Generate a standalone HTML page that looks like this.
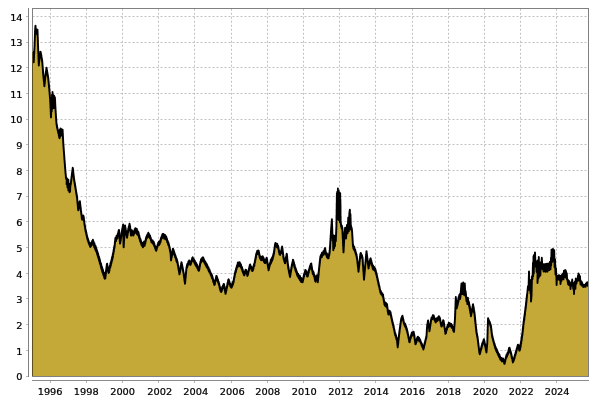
<!DOCTYPE html><html><head><meta charset="utf-8"><title>chart</title><style>html,body{margin:0;padding:0;background:#fff}svg{display:block}.lb{filter:grayscale(1)}text{font-family:"DejaVu Sans","Liberation Sans",sans-serif;font-size:9.8px;fill:#000;stroke:#000;stroke-width:0.25px}</style></head><body>
<svg width="600" height="400" viewBox="0 0 600 400">
<rect x="0" y="0" width="600" height="400" fill="#fff"/>
<g stroke="#c0c0c0" stroke-width="1" stroke-dasharray="2,2"><line x1="32.5" y1="16.5" x2="588.5" y2="16.5"/><line x1="32.5" y1="42.5" x2="588.5" y2="42.5"/><line x1="32.5" y1="67.5" x2="588.5" y2="67.5"/><line x1="32.5" y1="93.5" x2="588.5" y2="93.5"/><line x1="32.5" y1="119.5" x2="588.5" y2="119.5"/><line x1="32.5" y1="144.5" x2="588.5" y2="144.5"/><line x1="32.5" y1="170.5" x2="588.5" y2="170.5"/><line x1="32.5" y1="196.5" x2="588.5" y2="196.5"/><line x1="32.5" y1="221.5" x2="588.5" y2="221.5"/><line x1="32.5" y1="247.5" x2="588.5" y2="247.5"/><line x1="32.5" y1="273.5" x2="588.5" y2="273.5"/><line x1="32.5" y1="298.5" x2="588.5" y2="298.5"/><line x1="32.5" y1="324.5" x2="588.5" y2="324.5"/><line x1="32.5" y1="350.5" x2="588.5" y2="350.5"/><line x1="32.5" y1="376.5" x2="588.5" y2="376.5"/><line x1="50.5" y1="8.75" x2="50.5" y2="376"/><line x1="86.5" y1="8.75" x2="86.5" y2="376"/><line x1="122.5" y1="8.75" x2="122.5" y2="376"/><line x1="158.5" y1="8.75" x2="158.5" y2="376"/><line x1="194.5" y1="8.75" x2="194.5" y2="376"/><line x1="231.5" y1="8.75" x2="231.5" y2="376"/><line x1="267.5" y1="8.75" x2="267.5" y2="376"/><line x1="303.5" y1="8.75" x2="303.5" y2="376"/><line x1="339.5" y1="8.75" x2="339.5" y2="376"/><line x1="375.5" y1="8.75" x2="375.5" y2="376"/><line x1="412.5" y1="8.75" x2="412.5" y2="376"/><line x1="448.5" y1="8.75" x2="448.5" y2="376"/><line x1="484.5" y1="8.75" x2="484.5" y2="376"/><line x1="520.5" y1="8.75" x2="520.5" y2="376"/><line x1="556.5" y1="8.75" x2="556.5" y2="376"/></g>
<clipPath id="cp"><rect x="32.5" y="8.5" width="556" height="367.5"/></clipPath>
<g clip-path="url(#cp)"><path d="M32.5,52.0 L33.7,62.0 L34.6,45.0 L35.1,30.0 L35.5,26.0 L36.0,33.0 L36.5,29.5 L37.0,34.0 L37.5,30.0 L38.0,45.0 L38.8,65.0 L39.6,58.0 L40.5,52.0 L41.3,56.0 L42.3,62.0 L43.3,75.0 L44.4,86.0 L45.4,76.0 L46.5,68.0 L47.5,74.0 L48.2,78.0 L49.2,88.0 L50.2,100.0 L51.0,117.0 L51.4,99.0 L51.7,111.0 L52.0,95.0 L52.3,109.0 L52.5,92.0 L52.9,107.0 L53.3,95.0 L53.7,108.0 L54.1,96.0 L54.5,106.0 L54.9,97.5 L55.6,111.0 L56.5,124.0 L57.5,129.0 L58.5,133.0 L59.5,138.0 L59.9,130.0 L60.2,136.5 L60.5,129.0 L60.9,135.5 L61.3,129.3 L61.7,135.0 L62.1,129.6 L62.4,134.0 L62.6,130.0 L63.2,142.0 L64.5,160.0 L65.3,170.0 L66.0,178.0 L66.9,178.5 L66.6,184.0 L67.7,179.5 L67.4,187.0 L68.4,180.0 L68.3,190.0 L69.2,184.0 L69.5,192.0 L70.0,192.0 L70.3,186.0 L71.0,182.0 L72.8,168.0 L74.0,179.0 L75.5,188.0 L77.0,197.0 L78.2,210.0 L79.8,201.5 L81.0,211.0 L82.0,219.0 L83.5,216.0 L84.5,224.0 L85.5,230.0 L87.5,238.5 L89.0,243.0 L90.5,246.0 L92.5,241.5 L95.0,246.5 L97.0,252.0 L99.7,261.0 L102.0,269.0 L104.0,275.0 L105.3,277.0 L107.0,264.5 L108.5,272.0 L110.0,267.0 L113.0,255.0 L114.5,246.5 L115.5,238.5 L117.0,238.0 L119.0,230.5 L120.0,243.0 L121.5,234.5 L123.2,225.0 L123.6,247.0 L125.0,226.5 L127.0,237.0 L129.0,226.5 L130.0,226.5 L131.0,235.0 L132.0,231.5 L133.5,234.5 L135.0,230.0 L138.0,232.5 L140.0,239.5 L142.0,245.0 L145.0,244.0 L146.0,238.5 L148.0,234.4 L150.0,236.5 L151.5,241.5 L153.5,242.5 L155.5,248.5 L156.2,250.0 L158.0,244.5 L160.0,242.5 L161.5,237.5 L162.8,235.1 L164.5,237.0 L166.0,237.5 L167.5,241.5 L169.0,245.5 L170.5,252.0 L171.0,259.9 L173.0,249.4 L175.0,255.5 L177.5,262.5 L179.5,273.9 L181.5,262.7 L183.5,272.5 L185.0,283.4 L186.5,267.5 L189.0,261.4 L190.5,264.5 L192.5,258.2 L195.0,262.5 L197.0,266.0 L199.0,270.4 L200.5,262.0 L202.8,258.2 L205.0,262.5 L207.5,267.0 L210.0,272.0 L212.5,278.0 L214.5,284.4 L216.5,276.4 L218.5,282.5 L221.0,291.4 L224.0,284.6 L225.5,293.4 L228.5,279.9 L230.0,284.5 L231.5,286.9 L233.5,281.5 L235.0,273.5 L237.5,265.0 L240.0,264.0 L242.0,268.5 L244.0,274.4 L246.0,270.4 L247.5,275.4 L250.0,265.4 L252.5,270.4 L254.5,264.0 L256.5,253.5 L258.5,251.1 L260.0,257.5 L261.5,259.0 L263.0,258.0 L265.0,262.5 L266.8,258.6 L268.5,269.4 L270.5,262.2 L272.5,258.7 L274.0,252.7 L275.0,245.2 L276.2,244.7 L278.0,246.2 L279.5,253.7 L281.0,252.7 L282.2,247.2 L283.5,257.7 L285.0,262.7 L286.8,254.6 L288.0,265.7 L290.0,276.4 L291.5,267.7 L293.0,260.6 L295.0,267.7 L297.0,273.7 L299.5,277.7 L302.5,281.4 L304.5,273.7 L305.5,271.1 L307.5,275.9 L309.5,268.7 L311.2,264.4 L312.5,271.7 L314.0,274.7 L315.5,280.9 L317.0,275.4 L317.8,281.9 L318.5,274.7 L319.5,264.7 L320.5,256.7 L322.5,254.2 L324.0,252.7 L325.0,248.6 L326.0,254.2 L328.5,257.4 L329.5,253.2 L330.0,247.7 L330.9,232.7 L331.9,219.7 L332.6,240.0 L333.0,235.5 L333.3,250.0 L333.7,236.5 L334.1,248.0 L334.5,236.0 L334.9,246.0 L335.3,236.5 L335.8,241.0 L336.4,226.0 L336.9,193.5 L337.1,216.0 L337.3,192.0 L337.6,214.0 L337.9,189.0 L338.3,219.0 L338.7,191.0 L339.1,220.0 L339.5,193.0 L339.9,222.0 L340.2,193.5 L340.4,215.0 L340.4,200.0 L340.6,222.0 L341.2,226.0 L342.3,228.0 L343.5,252.0 L344.6,232.0 L345.2,228.5 L346.0,238.0 L347.0,225.5 L347.6,233.0 L348.3,217.5 L348.8,231.0 L349.3,214.0 L349.9,210.3 L350.1,229.0 L350.4,214.0 L350.8,226.0 L352.0,230.5 L353.0,246.2 L355.0,250.2 L357.0,257.7 L358.5,271.4 L360.5,253.6 L362.5,257.7 L364.0,279.4 L366.5,251.4 L368.5,267.9 L370.5,258.6 L372.5,266.7 L375.0,269.2 L376.5,274.3 L378.5,283.3 L380.5,292.3 L383.0,295.3 L384.5,304.3 L387.0,304.8 L388.0,312.3 L390.5,312.8 L392.0,320.3 L393.5,326.3 L395.0,333.3 L397.0,339.8 L397.7,346.9 L399.5,331.3 L401.0,320.3 L402.5,316.6 L404.0,323.3 L406.0,326.8 L407.5,332.3 L409.5,341.9 L411.5,334.3 L414.0,333.8 L415.5,343.9 L417.5,337.8 L420.0,340.3 L421.5,344.3 L423.5,348.4 L425.0,342.3 L426.5,336.3 L427.0,327.3 L428.0,320.9 L429.5,330.9 L431.0,320.3 L432.0,317.3 L433.5,316.5 L435.5,320.9 L437.5,319.3 L439.5,317.4 L441.5,325.9 L443.5,320.9 L445.5,333.4 L448.0,324.8 L450.5,324.3 L452.5,327.3 L454.0,331.4 L455.0,318.3 L455.8,297.9 L456.6,307.9 L457.5,304.3 L459.0,297.3 L460.5,295.8 L461.5,284.5 L462.2,293.0 L463.2,283.5 L463.9,294.0 L464.8,284.0 L465.2,295.0 L465.5,291.5 L466.5,300.5 L468.2,301.5 L469.5,306.3 L471.0,314.9 L473.0,305.6 L474.5,313.3 L475.5,323.3 L476.5,332.3 L477.5,337.3 L479.0,349.3 L479.7,353.9 L482.0,345.3 L484.0,339.9 L485.5,347.3 L486.5,351.9 L487.3,342.3 L488.0,318.9 L489.0,321.8 L490.0,323.3 L491.0,326.8 L492.0,335.3 L494.0,343.3 L496.0,349.3 L498.5,354.3 L501.0,359.3 L503.5,360.3 L504.5,363.4 L506.0,357.3 L508.0,353.3 L509.3,347.9 L511.0,353.3 L513.0,361.9 L514.5,357.3 L516.5,350.3 L518.0,344.9 L519.5,350.3 L521.0,343.2 L522.5,333.2 L523.5,323.7 L524.5,316.7 L526.0,304.7 L527.0,295.7 L528.0,286.2 L528.5,289.9 L529.0,271.5 L529.5,287.6 L530.0,284.2 L530.5,293.4 L531.0,280.0 L531.0,301.5 L531.5,295.9 L532.0,276.2 L532.5,279.1 L533.0,262.7 L533.2,276.2 L533.5,256.3 L533.8,273.4 L534.0,255.0 L534.5,264.7 L535.0,252.4 L535.6,266.6 L536.2,261.1 L536.6,271.6 L537.0,261.8 L537.2,273.1 L537.5,262.2 L537.5,283.0 L537.8,278.9 L538.0,260.3 L538.4,278.2 L538.8,257.0 L539.4,276.6 L540.0,263.2 L540.4,275.2 L540.8,262.1 L541.3,268.5 L541.8,257.7 L542.4,269.0 L543.0,264.3 L543.5,271.5 L544.0,264.3 L544.5,271.1 L545.0,264.1 L545.5,271.9 L546.0,264.0 L546.5,271.4 L547.0,263.6 L547.5,271.6 L548.0,263.7 L548.5,269.8 L549.0,263.5 L549.2,270.1 L549.5,263.7 L549.8,267.6 L550.0,261.6 L550.5,269.2 L551.0,257.6 L551.2,265.5 L551.5,249.6 L551.8,258.7 L552.0,249.4 L552.5,261.9 L553.0,249.0 L553.6,257.9 L554.2,250.2 L554.6,267.2 L555.0,259.1 L555.5,274.4 L556.0,268.2 L556.5,280.2 L556.6,285.0 L557.0,276.2 L557.5,279.6 L558.0,275.6 L558.5,278.7 L559.0,275.2 L559.5,280.1 L560.0,275.7 L560.5,282.1 L560.5,284.0 L561.0,276.1 L561.5,281.0 L562.0,274.8 L562.5,278.9 L563.0,273.5 L563.5,279.4 L564.0,270.8 L564.5,277.0 L565.0,270.2 L565.2,276.8 L565.5,270.1 L565.8,277.1 L566.0,271.3 L566.4,278.2 L566.8,273.2 L567.1,279.8 L567.5,279.3 L567.8,282.5 L568.0,279.9 L568.0,284.0 L568.5,284.7 L569.0,281.0 L569.2,285.1 L569.5,281.6 L569.8,285.2 L570.0,282.6 L570.5,288.2 L570.5,289.0 L571.0,284.1 L571.6,285.7 L572.2,279.5 L572.6,283.7 L573.0,282.9 L573.2,288.7 L573.5,285.2 L573.8,290.7 L574.0,284.1 L574.0,294.0 L574.2,289.8 L574.5,283.2 L574.8,288.6 L575.0,281.4 L575.4,288.7 L575.8,278.5 L576.4,283.7 L577.0,280.2 L577.5,280.8 L578.0,275.6 L578.2,278.0 L578.5,273.4 L578.8,280.5 L579.0,274.4 L579.5,280.5 L580.0,276.1 L580.5,284.4 L581.0,281.0 L581.5,285.5 L582.0,282.3 L582.5,285.3 L583.0,284.3 L583.2,287.0 L583.5,285.1 L583.8,286.7 L584.0,285.0 L584.5,286.7 L585.0,284.8 L585.5,286.9 L586.0,283.4 L586.5,285.0 L587.0,282.4 L587.5,285.9 L588.0,282.2 L588.5,376.5 L32.5,376.5 Z" fill="#c4a838"/>
<path d="M32.5,52.0 L32.5,51.7 L32.6,53.4 L32.6,52.4 L32.7,54.1 L32.7,53.2 L32.8,55.1 L32.8,54.3 L32.9,55.9 L32.9,55.1 L33.0,56.7 L33.0,55.9 L33.1,57.3 L33.1,56.5 L33.2,58.5 L33.2,57.4 L33.3,59.0 L33.3,58.0 L33.4,60.2 L33.4,58.8 L33.5,60.7 L33.5,59.4 L33.6,61.3 L33.6,60.3 L33.7,62.2 L33.7,61.8 L33.7,61.1 L33.7,61.8 L33.8,60.0 L33.8,60.9 L33.8,59.3 L33.8,60.3 L33.9,58.6 L33.9,59.4 L33.9,57.9 L33.9,58.4 L33.9,57.0 L34.0,57.9 L34.0,56.1 L34.0,56.9 L34.0,55.2 L34.0,56.2 L34.1,54.5 L34.1,55.5 L34.1,53.6 L34.1,54.5 L34.2,52.8 L34.2,53.8 L34.2,51.9 L34.2,53.1 L34.2,51.3 L34.3,52.4 L34.3,50.6 L34.3,51.3 L34.3,49.5 L34.3,50.4 L34.4,48.8 L34.4,49.5 L34.4,47.9 L34.4,49.0 L34.5,47.1 L34.5,48.3 L34.5,46.4 L34.5,47.4 L34.5,45.5 L34.6,46.5 L34.6,44.8 L34.6,45.2 L34.6,45.4 L34.6,43.6 L34.6,44.5 L34.7,42.9 L34.7,43.7 L34.7,41.9 L34.7,43.0 L34.7,41.0 L34.7,41.9 L34.7,40.4 L34.7,41.3 L34.8,39.7 L34.8,40.4 L34.8,38.8 L34.8,39.4 L34.8,38.1 L34.8,38.9 L34.8,37.2 L34.9,37.8 L34.9,36.3 L34.9,37.3 L34.9,35.6 L34.9,36.3 L34.9,34.6 L34.9,35.7 L35.0,33.7 L35.0,34.9 L35.0,33.1 L35.0,33.8 L35.0,32.3 L35.0,33.2 L35.0,31.2 L35.0,32.1 L35.1,30.7 L35.1,31.3 L35.1,29.9 L35.1,30.0 L35.1,30.4 L35.2,28.6 L35.2,29.3 L35.3,27.7 L35.3,28.7 L35.3,26.9 L35.4,28.1 L35.4,26.0 L35.5,27.1 L35.5,26.1 L35.5,25.6 L35.6,27.3 L35.6,26.4 L35.6,28.5 L35.6,27.2 L35.7,29.3 L35.7,28.2 L35.7,29.9 L35.8,29.2 L35.8,30.9 L35.8,30.0 L35.9,31.4 L35.9,30.8 L35.9,32.3 L35.9,31.6 L36.0,33.1 L36.0,32.7 L36.1,32.0 L36.1,32.7 L36.2,31.0 L36.2,31.8 L36.3,29.9 L36.4,31.2 L36.4,29.4 L36.5,29.3 L36.5,30.6 L36.6,29.7 L36.6,31.3 L36.7,30.2 L36.7,32.5 L36.8,31.2 L36.8,33.1 L36.9,32.2 L36.9,33.7 L37.0,32.9 L37.0,33.9 L37.0,34.5 L37.1,32.6 L37.1,33.3 L37.2,31.4 L37.2,32.8 L37.3,31.0 L37.4,32.0 L37.4,30.3 L37.5,31.2 L37.5,30.3 L37.5,29.6 L37.5,31.5 L37.5,30.7 L37.6,32.2 L37.6,31.5 L37.6,33.2 L37.6,32.2 L37.6,34.0 L37.6,33.1 L37.6,34.6 L37.6,33.7 L37.7,35.7 L37.7,34.5 L37.7,36.4 L37.7,35.3 L37.7,37.2 L37.7,36.4 L37.7,37.9 L37.8,37.1 L37.8,38.5 L37.8,38.1 L37.8,39.5 L37.8,38.8 L37.8,40.5 L37.8,39.3 L37.9,41.2 L37.9,40.1 L37.9,42.2 L37.9,40.9 L37.9,42.7 L37.9,42.0 L37.9,43.5 L37.9,42.9 L38.0,44.3 L38.0,43.5 L38.0,45.4 L38.0,45.2 L38.0,44.8 L38.0,46.5 L38.0,45.4 L38.1,47.1 L38.1,46.3 L38.1,48.2 L38.1,47.0 L38.1,49.0 L38.1,48.0 L38.2,49.5 L38.2,48.6 L38.2,50.4 L38.2,49.4 L38.2,51.5 L38.2,50.4 L38.3,52.0 L38.3,51.0 L38.3,52.9 L38.3,52.1 L38.3,53.5 L38.3,52.9 L38.4,54.6 L38.4,53.4 L38.4,55.1 L38.4,54.2 L38.4,56.3 L38.4,55.1 L38.4,56.8 L38.5,55.9 L38.5,57.5 L38.5,57.0 L38.5,58.7 L38.5,57.5 L38.5,59.3 L38.6,58.2 L38.6,60.0 L38.6,59.0 L38.6,61.0 L38.6,60.1 L38.6,61.5 L38.7,60.8 L38.7,62.3 L38.7,61.5 L38.7,63.1 L38.7,62.4 L38.7,63.9 L38.8,63.0 L38.8,64.8 L38.8,64.0 L38.8,65.0 L38.8,65.5 L38.9,63.5 L38.9,64.7 L39.0,62.6 L39.0,63.7 L39.1,61.8 L39.1,62.6 L39.2,61.0 L39.2,61.9 L39.3,60.4 L39.3,61.3 L39.4,59.5 L39.4,60.4 L39.5,58.4 L39.5,59.6 L39.6,57.8 L39.6,58.0 L39.7,58.4 L39.7,56.3 L39.8,57.4 L39.8,55.6 L39.9,56.6 L40.0,54.9 L40.0,56.1 L40.1,54.0 L40.1,55.2 L40.2,53.1 L40.3,54.6 L40.3,52.5 L40.4,53.6 L40.4,51.6 L40.5,52.0 L40.6,53.3 L40.7,52.0 L40.7,54.0 L40.8,52.8 L40.9,55.1 L41.0,53.5 L41.1,55.8 L41.1,54.1 L41.2,56.3 L41.3,56.0 L41.4,55.4 L41.4,57.8 L41.5,56.6 L41.6,58.2 L41.6,57.2 L41.7,59.0 L41.8,58.1 L41.8,59.8 L41.9,58.7 L42.0,60.9 L42.0,59.4 L42.1,61.4 L42.2,60.3 L42.2,62.5 L42.3,61.8 L42.3,61.5 L42.4,63.7 L42.4,62.7 L42.4,64.5 L42.5,63.4 L42.5,65.1 L42.5,63.9 L42.5,66.1 L42.6,65.1 L42.6,66.7 L42.6,65.8 L42.7,67.5 L42.7,66.7 L42.7,68.3 L42.8,67.3 L42.8,69.0 L42.8,68.2 L42.9,70.0 L42.9,69.3 L42.9,70.7 L43.0,69.8 L43.0,71.6 L43.0,70.9 L43.0,72.7 L43.1,71.3 L43.1,73.5 L43.1,72.5 L43.2,74.0 L43.2,73.3 L43.2,75.0 L43.3,74.0 L43.3,74.8 L43.3,76.1 L43.4,74.9 L43.4,77.1 L43.5,76.0 L43.5,77.6 L43.5,76.5 L43.6,78.6 L43.6,77.4 L43.7,79.2 L43.7,78.6 L43.7,80.3 L43.8,79.2 L43.8,80.8 L43.9,79.8 L43.9,81.9 L44.0,80.7 L44.0,82.4 L44.0,81.4 L44.1,83.2 L44.1,82.3 L44.2,84.2 L44.2,83.3 L44.2,85.1 L44.3,83.9 L44.3,85.8 L44.4,85.1 L44.4,86.0 L44.4,86.2 L44.5,84.7 L44.5,85.4 L44.6,83.9 L44.6,84.6 L44.6,83.0 L44.7,83.8 L44.7,82.0 L44.8,83.0 L44.8,81.3 L44.8,82.2 L44.9,80.6 L44.9,81.3 L45.0,79.8 L45.0,80.5 L45.0,78.8 L45.1,79.9 L45.1,78.2 L45.2,79.1 L45.2,77.1 L45.2,78.1 L45.3,76.3 L45.3,77.5 L45.4,75.7 L45.4,76.2 L45.5,76.3 L45.5,74.4 L45.6,75.7 L45.6,73.4 L45.7,74.7 L45.7,72.7 L45.8,74.1 L45.8,72.0 L45.9,73.1 L46.0,71.3 L46.0,72.1 L46.1,70.6 L46.1,71.3 L46.2,69.5 L46.2,70.6 L46.3,69.0 L46.3,69.7 L46.4,67.9 L46.4,69.3 L46.5,68.1 L46.6,67.7 L46.6,69.5 L46.7,68.5 L46.8,70.4 L46.8,69.4 L46.9,71.2 L47.0,70.1 L47.0,72.2 L47.1,70.6 L47.2,72.8 L47.2,71.7 L47.3,73.8 L47.4,72.5 L47.4,74.3 L47.5,73.7 L47.6,73.7 L47.6,75.6 L47.7,74.4 L47.8,76.2 L47.9,75.2 L47.9,76.9 L48.0,76.1 L48.1,77.8 L48.1,76.9 L48.2,77.7 L48.2,78.9 L48.3,78.2 L48.3,79.8 L48.4,78.8 L48.4,80.7 L48.4,79.6 L48.5,81.6 L48.5,80.4 L48.6,82.5 L48.6,81.3 L48.6,83.0 L48.7,81.9 L48.7,83.7 L48.8,82.8 L48.8,84.8 L48.8,83.9 L48.9,85.7 L48.9,84.3 L49.0,86.4 L49.0,85.2 L49.0,87.3 L49.1,86.3 L49.1,87.9 L49.2,86.9 L49.2,88.2 L49.2,89.2 L49.3,88.0 L49.3,89.9 L49.3,88.7 L49.4,90.8 L49.4,89.6 L49.4,91.4 L49.5,90.7 L49.5,92.1 L49.5,91.4 L49.6,92.9 L49.6,91.9 L49.6,93.9 L49.7,92.8 L49.7,94.8 L49.7,93.6 L49.8,95.5 L49.8,94.7 L49.8,96.4 L49.9,95.2 L49.9,97.1 L49.9,96.1 L50.0,98.0 L50.0,97.1 L50.0,98.8 L50.1,97.8 L50.1,99.3 L50.1,98.6 L50.2,100.4 L50.2,99.8 L50.2,99.6 L50.2,101.7 L50.3,100.6 L50.3,102.2 L50.3,101.4 L50.3,103.2 L50.3,102.1 L50.4,103.9 L50.4,102.9 L50.4,104.5 L50.4,104.0 L50.4,105.4 L50.4,104.5 L50.5,106.2 L50.5,105.4 L50.5,106.9 L50.5,106.4 L50.5,107.8 L50.6,107.0 L50.6,108.8 L50.6,107.8 L50.6,109.5 L50.6,108.6 L50.7,110.4 L50.7,109.5 L50.7,111.0 L50.7,110.1 L50.7,111.9 L50.8,110.9 L50.8,113.0 L50.8,112.1 L50.8,113.6 L50.8,112.6 L50.8,114.6 L50.9,113.5 L50.9,115.1 L50.9,114.4 L50.9,116.2 L50.9,115.3 L51.0,116.9 L51.0,116.1 L51.0,117.0 L51.0,117.4 L51.0,115.7 L51.0,116.6 L51.0,114.8 L51.0,115.8 L51.1,113.9 L51.1,114.7 L51.1,113.0 L51.1,114.0 L51.1,112.6 L51.1,113.0 L51.1,111.6 L51.1,112.4 L51.1,110.9 L51.1,111.5 L51.1,110.0 L51.2,110.8 L51.2,109.0 L51.2,109.8 L51.2,108.3 L51.2,109.4 L51.2,107.7 L51.2,108.6 L51.2,106.7 L51.2,107.8 L51.2,106.1 L51.2,106.8 L51.2,105.2 L51.3,106.2 L51.3,104.3 L51.3,105.2 L51.3,103.6 L51.3,104.3 L51.3,103.0 L51.3,103.5 L51.3,101.8 L51.3,102.7 L51.3,101.0 L51.3,101.9 L51.4,100.5 L51.4,101.2 L51.4,99.7 L51.4,100.4 L51.4,98.6 L51.4,99.2 L51.4,100.2 L51.4,99.1 L51.4,101.0 L51.4,99.8 L51.5,101.7 L51.5,100.7 L51.5,102.2 L51.5,101.5 L51.5,103.2 L51.5,102.3 L51.5,104.1 L51.5,103.3 L51.5,104.6 L51.5,103.8 L51.5,105.5 L51.6,104.8 L51.6,106.4 L51.6,105.7 L51.6,107.3 L51.6,106.2 L51.6,107.9 L51.6,107.1 L51.6,108.7 L51.6,107.9 L51.7,109.6 L51.7,108.9 L51.7,110.3 L51.7,109.7 L51.7,111.4 L51.7,111.0 L51.7,110.1 L51.7,111.0 L51.7,109.0 L51.7,110.0 L51.7,108.5 L51.7,109.1 L51.8,107.7 L51.8,108.4 L51.8,106.9 L51.8,107.5 L51.8,106.1 L51.8,106.9 L51.8,105.0 L51.8,106.1 L51.8,104.4 L51.8,105.2 L51.8,103.6 L51.8,104.4 L51.8,102.8 L51.9,103.4 L51.9,102.1 L51.9,103.0 L51.9,101.3 L51.9,102.0 L51.9,100.3 L51.9,101.4 L51.9,99.7 L51.9,100.3 L51.9,98.9 L51.9,99.6 L51.9,98.0 L51.9,99.0 L51.9,97.0 L52.0,98.2 L52.0,96.6 L52.0,97.0 L52.0,95.5 L52.0,96.6 L52.0,94.8 L52.0,95.0 L52.0,95.8 L52.0,95.2 L52.0,97.0 L52.0,95.8 L52.0,97.8 L52.1,96.6 L52.1,98.3 L52.1,97.7 L52.1,99.1 L52.1,98.4 L52.1,100.1 L52.1,99.0 L52.1,100.9 L52.1,99.9 L52.1,101.7 L52.1,100.8 L52.1,102.4 L52.2,101.8 L52.2,103.3 L52.2,102.5 L52.2,104.2 L52.2,103.1 L52.2,104.7 L52.2,104.1 L52.2,105.5 L52.2,104.7 L52.2,106.5 L52.2,105.7 L52.2,107.0 L52.3,106.4 L52.3,108.1 L52.3,107.2 L52.3,108.7 L52.3,107.9 L52.3,108.8 L52.3,109.1 L52.3,107.6 L52.3,108.6 L52.3,106.7 L52.3,107.8 L52.3,106.0 L52.3,106.7 L52.3,105.2 L52.3,106.2 L52.3,104.3 L52.4,105.1 L52.4,103.7 L52.4,104.4 L52.4,102.6 L52.4,103.5 L52.4,102.0 L52.4,102.8 L52.4,100.9 L52.4,101.8 L52.4,100.5 L52.4,101.1 L52.4,99.5 L52.4,100.4 L52.4,98.8 L52.4,99.6 L52.4,97.8 L52.4,98.7 L52.4,97.2 L52.4,98.1 L52.4,96.3 L52.4,97.2 L52.5,95.5 L52.5,96.1 L52.5,94.5 L52.5,95.4 L52.5,93.6 L52.5,94.6 L52.5,93.1 L52.5,93.7 L52.5,92.2 L52.5,93.1 L52.5,92.2 L52.5,91.9 L52.5,93.4 L52.5,92.7 L52.5,94.5 L52.6,93.5 L52.6,94.9 L52.6,94.4 L52.6,95.8 L52.6,94.8 L52.6,96.8 L52.6,95.7 L52.6,97.7 L52.6,96.5 L52.7,98.2 L52.7,97.6 L52.7,99.3 L52.7,98.2 L52.7,99.7 L52.7,99.0 L52.7,100.7 L52.7,99.9 L52.7,101.5 L52.7,100.8 L52.8,102.2 L52.8,101.6 L52.8,103.1 L52.8,102.1 L52.8,103.8 L52.8,102.9 L52.8,104.7 L52.8,104.0 L52.8,105.7 L52.9,104.6 L52.9,106.4 L52.9,105.7 L52.9,107.2 L52.9,106.9 L52.9,105.8 L52.9,106.7 L52.9,105.2 L53.0,106.2 L53.0,104.6 L53.0,105.2 L53.0,103.4 L53.0,104.6 L53.0,103.0 L53.0,103.4 L53.0,102.1 L53.1,103.0 L53.1,101.3 L53.1,102.1 L53.1,100.2 L53.1,101.2 L53.1,99.7 L53.1,100.6 L53.2,98.7 L53.2,99.5 L53.2,97.9 L53.2,98.8 L53.2,97.3 L53.2,97.8 L53.2,96.2 L53.2,97.4 L53.3,95.5 L53.3,96.6 L53.3,95.0 L53.3,94.9 L53.3,96.0 L53.3,95.0 L53.3,97.1 L53.3,96.0 L53.4,97.6 L53.4,96.8 L53.4,98.5 L53.4,97.4 L53.4,99.2 L53.4,98.3 L53.4,100.2 L53.5,99.1 L53.5,101.0 L53.5,100.0 L53.5,101.7 L53.5,100.9 L53.5,102.5 L53.5,101.6 L53.5,103.2 L53.5,102.6 L53.6,104.3 L53.6,103.4 L53.6,104.8 L53.6,104.3 L53.6,105.8 L53.6,105.0 L53.6,106.8 L53.7,105.6 L53.7,107.6 L53.7,106.6 L53.7,108.1 L53.7,107.8 L53.7,107.0 L53.7,107.9 L53.7,106.2 L53.8,106.9 L53.8,105.4 L53.8,106.3 L53.8,104.5 L53.8,105.5 L53.8,103.6 L53.8,104.7 L53.8,103.1 L53.9,104.0 L53.9,102.2 L53.9,103.1 L53.9,101.4 L53.9,102.3 L53.9,100.7 L53.9,101.3 L54.0,99.9 L54.0,100.5 L54.0,98.8 L54.0,99.9 L54.0,98.2 L54.0,99.0 L54.0,97.1 L54.0,98.2 L54.1,96.7 L54.1,97.6 L54.1,95.7 L54.1,96.3 L54.1,96.9 L54.1,96.2 L54.1,98.0 L54.2,96.8 L54.2,98.8 L54.2,98.0 L54.2,99.4 L54.2,98.7 L54.2,100.1 L54.3,99.1 L54.3,101.1 L54.3,100.0 L54.3,101.8 L54.3,100.8 L54.3,102.6 L54.4,101.9 L54.4,103.6 L54.4,102.4 L54.4,104.1 L54.4,103.3 L54.4,105.1 L54.5,104.3 L54.5,105.8 L54.5,105.1 L54.5,105.8 L54.5,106.1 L54.5,104.5 L54.6,105.5 L54.6,103.9 L54.6,104.4 L54.6,103.0 L54.6,103.9 L54.7,102.2 L54.7,102.9 L54.7,101.4 L54.7,102.3 L54.7,100.5 L54.7,101.2 L54.8,99.9 L54.8,100.5 L54.8,98.8 L54.8,99.8 L54.8,98.2 L54.9,98.8 L54.9,97.2 L54.9,97.5 L54.9,98.5 L54.9,97.7 L55.0,99.6 L55.0,98.6 L55.0,100.2 L55.0,99.4 L55.0,101.0 L55.1,100.0 L55.1,102.1 L55.1,101.0 L55.1,102.5 L55.2,101.6 L55.2,103.3 L55.2,102.8 L55.2,104.5 L55.2,103.4 L55.3,105.3 L55.3,104.2 L55.3,106.1 L55.3,105.0 L55.3,106.6 L55.4,106.1 L55.4,107.6 L55.4,106.6 L55.4,108.6 L55.5,107.7 L55.5,109.3 L55.5,108.3 L55.5,110.0 L55.5,109.3 L55.6,110.7 L55.6,109.9 L55.6,111.2 L55.6,111.9 L55.7,111.1 L55.7,113.0 L55.7,111.7 L55.7,113.6 L55.8,112.9 L55.8,114.7 L55.8,113.4 L55.9,115.3 L55.9,114.6 L55.9,116.3 L55.9,115.2 L56.0,117.1 L56.0,116.0 L56.0,117.9 L56.0,117.0 L56.1,118.7 L56.1,117.8 L56.1,119.4 L56.2,118.3 L56.2,120.4 L56.2,119.4 L56.2,120.9 L56.3,120.1 L56.3,121.8 L56.3,120.9 L56.4,122.5 L56.4,121.8 L56.4,123.6 L56.4,122.3 L56.5,124.1 L56.5,124.0 L56.6,123.5 L56.7,125.4 L56.8,124.2 L56.8,126.3 L56.9,125.2 L57.0,127.4 L57.1,126.0 L57.2,128.1 L57.2,127.0 L57.3,129.0 L57.4,127.8 L57.5,129.1 L57.6,130.2 L57.7,129.0 L57.8,130.8 L57.9,129.7 L58.0,131.9 L58.1,130.7 L58.2,132.8 L58.3,131.2 L58.4,133.5 L58.5,132.8 L58.6,132.6 L58.7,134.4 L58.8,133.6 L58.8,135.5 L58.9,134.5 L59.0,136.3 L59.1,135.1 L59.2,136.9 L59.2,135.9 L59.3,137.8 L59.4,136.6 L59.5,138.2 L59.5,138.3 L59.5,136.7 L59.6,137.5 L59.6,135.8 L59.6,136.9 L59.6,135.1 L59.6,136.0 L59.7,133.9 L59.7,135.2 L59.7,133.2 L59.7,134.1 L59.7,132.3 L59.8,133.5 L59.8,131.5 L59.8,132.8 L59.8,131.1 L59.8,132.0 L59.9,130.0 L59.9,130.9 L59.9,129.9 L59.9,129.6 L59.9,131.3 L60.0,130.4 L60.0,132.2 L60.0,131.2 L60.0,132.9 L60.0,132.2 L60.0,134.1 L60.1,133.1 L60.1,134.6 L60.1,133.8 L60.1,135.5 L60.1,134.8 L60.2,136.2 L60.2,135.6 L60.2,136.7 L60.2,136.8 L60.2,134.8 L60.2,135.8 L60.3,134.1 L60.3,134.9 L60.3,133.3 L60.3,134.3 L60.3,132.6 L60.4,133.6 L60.4,131.7 L60.4,132.6 L60.4,130.7 L60.4,131.6 L60.4,129.8 L60.5,131.0 L60.5,129.2 L60.5,130.2 L60.5,128.9 L60.5,128.5 L60.5,130.5 L60.6,129.6 L60.6,131.4 L60.6,130.4 L60.6,132.0 L60.7,131.1 L60.7,132.7 L60.7,131.8 L60.8,133.6 L60.8,132.7 L60.8,134.8 L60.8,133.6 L60.9,135.4 L60.9,134.5 L60.9,135.2 L60.9,135.6 L61.0,134.2 L61.0,135.0 L61.0,133.2 L61.0,134.1 L61.1,132.2 L61.1,133.1 L61.1,131.6 L61.1,132.5 L61.2,130.9 L61.2,131.4 L61.2,129.9 L61.2,130.6 L61.3,129.1 L61.3,129.2 L61.3,130.4 L61.4,129.4 L61.4,131.1 L61.4,130.2 L61.4,132.0 L61.5,131.2 L61.5,133.0 L61.5,132.0 L61.6,133.5 L61.6,132.9 L61.6,134.5 L61.6,133.3 L61.7,135.4 L61.7,134.9 L61.7,134.0 L61.8,134.6 L61.8,133.0 L61.8,134.1 L61.9,132.3 L61.9,133.3 L61.9,131.4 L61.9,132.6 L62.0,130.5 L62.0,131.4 L62.0,129.6 L62.1,130.5 L62.1,129.6 L62.1,129.4 L62.2,131.0 L62.2,130.3 L62.2,132.0 L62.2,131.1 L62.3,132.7 L62.3,131.5 L62.3,133.3 L62.3,132.7 L62.4,134.3 L62.4,134.0 L62.4,132.9 L62.4,134.0 L62.5,132.3 L62.5,133.0 L62.5,131.4 L62.5,132.1 L62.5,130.4 L62.6,131.6 L62.6,129.6 L62.6,129.7 L62.6,131.2 L62.6,130.0 L62.7,131.8 L62.7,130.8 L62.7,132.6 L62.7,131.9 L62.7,133.3 L62.8,132.7 L62.8,134.1 L62.8,133.4 L62.8,135.2 L62.8,134.1 L62.9,136.0 L62.9,134.8 L62.9,136.6 L62.9,135.7 L62.9,137.4 L63.0,136.4 L63.0,138.3 L63.0,137.4 L63.0,139.1 L63.0,137.9 L63.1,139.7 L63.1,138.8 L63.1,140.4 L63.1,139.8 L63.1,141.3 L63.2,140.4 L63.2,142.5 L63.2,142.1 L63.2,141.8 L63.3,143.7 L63.3,142.6 L63.3,144.2 L63.3,143.1 L63.4,145.1 L63.4,144.0 L63.4,146.0 L63.5,144.7 L63.5,146.7 L63.5,145.6 L63.5,147.6 L63.6,146.4 L63.6,148.3 L63.6,147.2 L63.7,149.1 L63.7,148.2 L63.7,149.8 L63.7,148.9 L63.8,150.5 L63.8,149.5 L63.8,151.3 L63.9,150.7 L63.9,152.1 L63.9,151.1 L64.0,153.0 L64.0,152.3 L64.0,153.7 L64.0,153.1 L64.1,154.8 L64.1,153.7 L64.1,155.6 L64.2,154.4 L64.2,156.1 L64.2,155.3 L64.2,157.0 L64.3,156.0 L64.3,158.0 L64.3,156.7 L64.4,158.5 L64.4,157.5 L64.4,159.7 L64.4,158.3 L64.5,160.1 L64.5,159.8 L64.5,159.9 L64.6,161.3 L64.6,160.3 L64.6,162.4 L64.7,161.2 L64.7,163.2 L64.7,162.0 L64.8,163.8 L64.8,163.1 L64.8,164.5 L64.9,163.6 L64.9,165.4 L64.9,164.6 L64.9,166.3 L65.0,165.5 L65.0,167.0 L65.0,166.2 L65.1,168.0 L65.1,167.0 L65.1,168.6 L65.2,167.5 L65.2,169.5 L65.2,168.3 L65.3,170.3 L65.3,169.7 L65.3,169.7 L65.4,171.5 L65.4,170.4 L65.4,172.2 L65.5,171.2 L65.5,173.1 L65.5,172.2 L65.6,174.1 L65.6,173.1 L65.7,174.9 L65.7,173.9 L65.7,175.3 L65.8,174.6 L65.8,176.4 L65.8,175.1 L65.9,176.9 L65.9,176.1 L65.9,177.9 L66.0,176.8 L66.0,177.8 L66.5,179.8 L66.9,178.3 L66.9,178.1 L66.9,179.9 L66.8,178.9 L66.8,180.8 L66.8,180.1 L66.8,181.8 L66.7,180.8 L66.7,182.4 L66.7,181.6 L66.7,183.2 L66.6,182.4 L66.6,184.3 L66.6,184.2 L66.7,182.6 L66.8,184.0 L66.9,182.0 L67.0,183.2 L67.1,180.9 L67.2,182.2 L67.3,180.0 L67.4,181.3 L67.5,179.6 L67.6,180.6 L67.7,179.8 L67.7,179.3 L67.7,180.9 L67.7,179.9 L67.6,181.7 L67.6,181.0 L67.6,182.7 L67.6,181.7 L67.6,183.6 L67.6,182.5 L67.5,184.2 L67.5,183.5 L67.5,185.0 L67.5,184.1 L67.5,186.1 L67.5,185.0 L67.4,186.7 L67.4,186.0 L67.4,187.1 L67.5,187.4 L67.5,185.6 L67.6,186.5 L67.6,184.4 L67.7,185.6 L67.8,183.9 L67.8,184.8 L67.9,182.8 L67.9,184.2 L68.0,182.3 L68.0,183.1 L68.1,181.4 L68.2,182.3 L68.2,180.5 L68.3,181.4 L68.3,179.7 L68.4,179.8 L68.4,181.2 L68.4,180.1 L68.4,181.7 L68.4,180.8 L68.4,182.5 L68.4,181.8 L68.4,183.6 L68.4,182.5 L68.4,184.3 L68.4,183.4 L68.4,184.9 L68.4,184.1 L68.3,185.7 L68.3,185.1 L68.3,186.6 L68.3,186.0 L68.3,187.4 L68.3,186.5 L68.3,188.3 L68.3,187.4 L68.3,189.1 L68.3,188.2 L68.3,189.7 L68.3,188.9 L68.3,190.0 L68.4,190.5 L68.4,188.2 L68.5,189.5 L68.5,187.6 L68.6,188.9 L68.7,186.9 L68.7,187.8 L68.8,185.9 L68.8,187.4 L68.9,185.1 L69.0,186.5 L69.0,184.2 L69.1,185.7 L69.1,183.6 L69.2,184.0 L69.2,185.0 L69.2,184.1 L69.2,185.7 L69.3,185.0 L69.3,186.8 L69.3,185.7 L69.3,187.5 L69.3,186.7 L69.3,188.2 L69.3,187.4 L69.4,189.1 L69.4,188.2 L69.4,189.9 L69.4,188.8 L69.4,190.5 L69.4,189.7 L69.5,191.6 L69.5,190.6 L69.5,192.2 L69.5,192.2 L70.0,191.4 L70.0,190.9 L70.0,191.7 L70.1,190.0 L70.1,191.3 L70.1,189.3 L70.1,190.1 L70.1,188.5 L70.2,189.5 L70.2,187.6 L70.2,188.7 L70.2,186.9 L70.2,188.0 L70.3,186.1 L70.3,187.0 L70.3,186.2 L70.4,185.0 L70.4,186.1 L70.5,184.1 L70.6,185.3 L70.7,183.4 L70.7,184.7 L70.8,182.5 L70.9,183.4 L70.9,181.7 L71.0,181.9 L71.1,182.1 L71.1,180.5 L71.2,181.5 L71.2,179.6 L71.3,180.7 L71.3,179.0 L71.4,179.8 L71.4,177.9 L71.5,179.4 L71.5,177.2 L71.6,178.2 L71.6,176.3 L71.7,177.5 L71.7,175.8 L71.8,176.6 L71.8,174.7 L71.9,176.1 L71.9,174.0 L72.0,175.1 L72.0,173.2 L72.1,174.2 L72.1,172.2 L72.2,173.5 L72.2,171.6 L72.3,172.9 L72.3,170.7 L72.4,171.9 L72.4,170.2 L72.5,171.2 L72.5,169.4 L72.6,170.5 L72.6,168.5 L72.7,169.7 L72.7,167.8 L72.8,167.9 L72.8,169.0 L72.9,168.1 L72.9,169.8 L73.0,169.1 L73.0,170.9 L73.1,169.8 L73.1,171.5 L73.2,170.6 L73.2,172.4 L73.2,171.4 L73.3,173.3 L73.3,172.1 L73.4,174.0 L73.4,172.8 L73.5,175.0 L73.5,174.0 L73.6,175.8 L73.6,174.4 L73.6,176.6 L73.7,175.6 L73.7,177.4 L73.8,176.2 L73.8,177.9 L73.9,177.3 L73.9,179.1 L74.0,177.8 L74.0,178.9 L74.1,180.0 L74.1,179.2 L74.2,180.9 L74.3,179.7 L74.3,181.8 L74.4,180.8 L74.5,182.9 L74.5,181.3 L74.6,183.3 L74.7,182.1 L74.8,184.3 L74.8,183.0 L74.9,185.2 L75.0,183.7 L75.0,186.1 L75.1,184.6 L75.2,186.6 L75.2,185.5 L75.3,187.6 L75.4,186.3 L75.4,188.3 L75.5,188.2 L75.6,187.6 L75.6,189.5 L75.7,188.6 L75.8,190.2 L75.8,189.3 L75.9,191.0 L76.0,190.1 L76.0,191.9 L76.1,190.9 L76.2,192.9 L76.2,191.7 L76.3,193.9 L76.4,192.8 L76.5,194.7 L76.5,193.4 L76.6,195.4 L76.7,194.1 L76.7,196.3 L76.8,195.1 L76.9,196.9 L76.9,195.6 L77.0,196.7 L77.0,198.2 L77.1,197.0 L77.1,198.7 L77.2,197.9 L77.2,199.8 L77.2,198.5 L77.3,200.5 L77.3,199.3 L77.3,201.4 L77.4,200.4 L77.4,202.4 L77.5,201.4 L77.5,203.1 L77.5,201.9 L77.6,203.7 L77.6,202.6 L77.6,204.5 L77.7,203.6 L77.7,205.4 L77.8,204.3 L77.8,206.1 L77.8,205.3 L77.9,207.0 L77.9,206.0 L77.9,208.0 L78.0,207.0 L78.0,208.8 L78.0,207.7 L78.1,209.5 L78.1,208.6 L78.2,210.3 L78.2,210.3 L78.3,208.7 L78.4,210.2 L78.4,208.1 L78.5,209.1 L78.6,207.3 L78.7,208.4 L78.7,206.3 L78.8,207.7 L78.9,205.8 L79.0,206.9 L79.0,204.5 L79.1,206.0 L79.2,204.2 L79.3,205.0 L79.3,203.4 L79.4,204.2 L79.5,202.1 L79.6,203.6 L79.6,201.4 L79.7,202.9 L79.8,201.8 L79.9,201.1 L79.9,203.1 L80.0,201.9 L80.0,204.0 L80.1,202.8 L80.1,204.8 L80.2,203.8 L80.2,205.6 L80.3,204.5 L80.3,206.5 L80.4,205.5 L80.4,207.0 L80.5,206.4 L80.5,208.2 L80.6,206.7 L80.6,208.9 L80.7,207.8 L80.7,209.8 L80.8,208.5 L80.8,210.5 L80.9,209.5 L80.9,211.2 L81.0,211.0 L81.0,210.7 L81.1,212.5 L81.2,211.4 L81.2,213.6 L81.2,212.5 L81.3,214.2 L81.3,213.3 L81.4,214.8 L81.5,213.7 L81.5,215.8 L81.5,214.4 L81.6,216.5 L81.7,215.7 L81.7,217.3 L81.8,216.2 L81.8,218.4 L81.8,216.8 L81.9,218.9 L82.0,217.9 L82.0,218.8 L82.2,219.8 L82.4,217.4 L82.6,218.7 L82.8,216.8 L82.9,217.9 L83.1,215.5 L83.3,217.2 L83.5,216.4 L83.5,215.9 L83.6,217.7 L83.7,216.6 L83.7,218.1 L83.8,217.1 L83.8,219.0 L83.8,217.9 L83.9,219.8 L84.0,219.1 L84.0,220.9 L84.0,219.6 L84.1,221.7 L84.2,220.3 L84.2,222.1 L84.2,221.2 L84.3,223.2 L84.3,222.1 L84.4,224.2 L84.5,223.0 L84.5,224.3 L84.6,225.3 L84.6,224.3 L84.7,225.7 L84.8,224.7 L84.8,227.0 L84.9,225.8 L85.0,227.5 L85.0,226.3 L85.1,228.2 L85.2,227.0 L85.2,229.2 L85.3,228.2 L85.4,229.9 L85.4,228.8 L85.5,230.0 L85.6,231.4 L85.7,230.2 L85.8,232.2 L85.9,230.8 L86.0,233.0 L86.1,231.5 L86.2,233.6 L86.3,232.4 L86.4,234.7 L86.5,232.9 L86.5,235.5 L86.6,234.0 L86.7,236.0 L86.8,235.1 L86.9,237.2 L87.0,235.5 L87.1,237.9 L87.2,236.5 L87.3,238.6 L87.4,237.0 L87.5,238.7 L87.6,239.9 L87.8,238.5 L87.9,240.6 L88.0,238.9 L88.2,241.4 L88.3,239.9 L88.5,242.4 L88.6,240.6 L88.7,243.3 L88.9,241.8 L89.0,242.6 L89.2,244.3 L89.4,242.7 L89.6,245.3 L89.8,243.2 L89.9,246.3 L90.1,244.5 L90.3,247.0 L90.5,246.3 L90.7,244.3 L90.8,246.4 L91.0,244.0 L91.2,245.8 L91.3,242.8 L91.5,244.9 L91.7,242.0 L91.8,244.0 L92.0,241.9 L92.2,243.3 L92.3,240.6 L92.5,241.2 L92.7,244.1 L92.9,239.8 L93.1,244.2 L93.3,241.0 L93.5,245.5 L93.7,242.0 L93.8,245.7 L94.0,243.0 L94.2,247.2 L94.4,243.1 L94.6,247.6 L94.8,244.8 L95.0,247.0 L95.1,248.9 L95.3,245.9 L95.4,249.4 L95.6,245.9 L95.7,250.6 L95.9,247.2 L96.0,250.9 L96.1,247.9 L96.3,251.4 L96.4,249.1 L96.6,252.1 L96.7,249.3 L96.9,253.1 L97.0,252.1 L97.1,250.9 L97.2,254.4 L97.4,252.0 L97.5,254.7 L97.6,251.9 L97.7,255.8 L97.8,253.6 L97.9,256.8 L98.1,253.6 L98.2,257.1 L98.3,254.6 L98.4,258.1 L98.5,255.5 L98.6,258.5 L98.8,256.8 L98.9,260.3 L99.0,256.7 L99.1,260.6 L99.2,257.8 L99.3,261.2 L99.5,258.4 L99.6,262.1 L99.7,261.6 L99.8,259.6 L99.9,263.7 L100.0,260.2 L100.2,263.9 L100.3,261.9 L100.4,264.6 L100.5,262.6 L100.6,265.3 L100.7,263.5 L100.8,266.6 L101.0,263.5 L101.1,267.3 L101.2,264.2 L101.3,268.6 L101.4,265.9 L101.5,269.1 L101.7,266.4 L101.8,269.4 L101.9,266.6 L102.0,268.7 L102.1,271.1 L102.3,268.0 L102.4,272.3 L102.5,268.8 L102.7,272.5 L102.8,269.8 L102.9,273.1 L103.1,270.1 L103.2,274.8 L103.3,271.7 L103.5,274.5 L103.6,272.4 L103.7,275.7 L103.9,272.5 L104.0,275.5 L104.3,277.9 L104.5,274.4 L104.8,278.7 L105.0,274.2 L105.3,277.2 L105.4,278.3 L105.4,275.3 L105.5,276.8 L105.5,273.9 L105.6,276.6 L105.6,273.1 L105.7,275.3 L105.7,272.4 L105.8,274.9 L105.8,272.0 L105.9,273.7 L106.0,271.1 L106.0,272.7 L106.1,270.1 L106.1,272.0 L106.2,269.5 L106.2,271.1 L106.3,268.3 L106.3,270.2 L106.4,267.5 L106.5,269.6 L106.5,267.2 L106.6,269.4 L106.6,266.3 L106.7,268.6 L106.7,264.9 L106.8,267.7 L106.8,264.7 L106.9,266.5 L106.9,264.0 L107.0,264.9 L107.1,266.6 L107.2,263.8 L107.2,267.0 L107.3,264.8 L107.4,268.2 L107.5,265.5 L107.6,268.8 L107.6,266.6 L107.7,269.2 L107.8,267.5 L107.9,270.4 L107.9,267.8 L108.0,270.7 L108.1,268.3 L108.2,271.6 L108.3,269.5 L108.3,272.3 L108.4,270.4 L108.5,272.4 L108.6,273.0 L108.7,270.0 L108.8,272.4 L109.0,269.1 L109.1,272.1 L109.2,268.5 L109.3,271.4 L109.4,267.8 L109.5,270.5 L109.7,266.4 L109.8,269.0 L109.9,265.8 L110.0,266.7 L110.1,267.8 L110.2,265.0 L110.3,267.2 L110.4,263.4 L110.5,267.0 L110.6,262.7 L110.7,265.3 L110.8,262.5 L110.9,265.3 L111.0,262.0 L111.1,264.3 L111.2,260.9 L111.3,263.8 L111.4,260.4 L111.5,262.8 L111.6,259.3 L111.7,261.3 L111.8,258.8 L111.9,261.2 L112.0,257.5 L112.1,259.8 L112.2,256.8 L112.3,259.7 L112.4,256.2 L112.5,258.6 L112.6,255.5 L112.7,257.4 L112.8,254.0 L112.9,257.1 L113.0,254.6 L113.1,253.8 L113.1,255.0 L113.2,252.5 L113.3,254.5 L113.4,252.0 L113.4,253.5 L113.5,250.9 L113.6,253.1 L113.6,250.0 L113.7,252.2 L113.8,249.6 L113.9,251.0 L113.9,248.4 L114.0,250.4 L114.1,247.6 L114.1,249.3 L114.2,246.7 L114.3,248.7 L114.4,245.9 L114.4,248.3 L114.5,246.5 L114.5,245.4 L114.6,247.1 L114.7,244.2 L114.7,246.2 L114.8,243.6 L114.8,245.0 L114.8,242.4 L114.9,244.3 L115.0,242.1 L115.0,243.5 L115.0,241.0 L115.1,242.4 L115.2,240.2 L115.2,241.9 L115.2,239.4 L115.3,240.9 L115.3,238.5 L115.4,240.6 L115.5,237.6 L115.5,238.3 L116.0,241.1 L116.5,235.9 L117.0,238.5 L117.1,238.5 L117.2,235.6 L117.3,238.5 L117.4,235.1 L117.5,237.3 L117.6,234.3 L117.7,236.6 L117.8,234.0 L117.9,236.1 L118.1,233.0 L118.2,234.7 L118.3,232.3 L118.4,233.9 L118.5,230.9 L118.6,233.0 L118.7,230.7 L118.8,232.8 L118.9,229.9 L119.0,230.0 L119.0,232.0 L119.1,230.3 L119.1,232.7 L119.1,231.0 L119.2,233.3 L119.2,231.7 L119.2,234.5 L119.3,233.0 L119.3,234.9 L119.3,233.5 L119.4,235.9 L119.4,234.5 L119.4,236.5 L119.5,235.2 L119.5,237.3 L119.5,235.9 L119.5,238.6 L119.6,237.0 L119.6,239.2 L119.6,237.4 L119.7,239.7 L119.7,238.1 L119.7,241.1 L119.8,239.2 L119.8,241.5 L119.8,239.8 L119.9,242.4 L119.9,240.9 L119.9,243.5 L120.0,241.4 L120.0,242.9 L120.1,243.6 L120.1,241.2 L120.2,242.9 L120.3,239.9 L120.4,242.4 L120.4,239.1 L120.5,241.6 L120.6,238.3 L120.6,240.2 L120.7,237.8 L120.8,240.1 L120.9,236.6 L120.9,238.7 L121.0,236.2 L121.1,238.2 L121.1,235.5 L121.2,237.3 L121.3,234.9 L121.4,236.4 L121.4,233.7 L121.5,234.1 L121.6,235.0 L121.6,232.2 L121.7,234.7 L121.8,231.4 L121.9,233.8 L121.9,230.7 L122.0,233.2 L122.1,229.9 L122.1,231.7 L122.2,229.3 L122.3,231.1 L122.3,228.4 L122.4,230.3 L122.5,227.8 L122.6,230.1 L122.6,226.9 L122.7,228.7 L122.8,226.2 L122.8,228.1 L122.9,225.1 L123.0,227.2 L123.1,224.8 L123.1,226.7 L123.2,224.6 L123.2,224.4 L123.2,227.0 L123.2,225.3 L123.2,227.4 L123.2,226.1 L123.2,228.3 L123.3,227.1 L123.3,228.9 L123.3,227.9 L123.3,229.8 L123.3,228.6 L123.3,230.6 L123.3,229.4 L123.3,231.3 L123.3,230.1 L123.3,232.5 L123.3,230.8 L123.3,233.1 L123.3,231.6 L123.3,233.7 L123.4,232.4 L123.4,234.7 L123.4,233.3 L123.4,235.6 L123.4,234.1 L123.4,236.2 L123.4,235.1 L123.4,236.9 L123.4,235.7 L123.4,237.8 L123.4,236.4 L123.4,238.4 L123.4,237.4 L123.4,239.7 L123.5,238.3 L123.5,240.3 L123.5,238.9 L123.5,241.0 L123.5,239.4 L123.5,241.8 L123.5,240.3 L123.5,242.5 L123.5,241.6 L123.5,243.7 L123.5,242.1 L123.5,244.0 L123.5,243.0 L123.5,245.1 L123.6,243.6 L123.6,245.7 L123.6,244.7 L123.6,247.0 L123.6,245.2 L123.6,247.3 L123.6,246.9 L123.6,245.7 L123.7,247.3 L123.7,244.7 L123.7,246.6 L123.7,243.8 L123.8,245.6 L123.8,243.0 L123.8,244.9 L123.8,242.2 L123.9,244.0 L123.9,241.4 L123.9,243.3 L124.0,240.5 L124.0,242.1 L124.0,239.7 L124.0,241.2 L124.1,239.0 L124.1,240.8 L124.1,238.4 L124.1,240.3 L124.2,237.5 L124.2,239.1 L124.2,236.6 L124.3,238.6 L124.3,235.9 L124.3,237.5 L124.3,235.2 L124.4,236.7 L124.4,234.2 L124.4,235.8 L124.5,233.6 L124.5,235.2 L124.5,232.8 L124.5,234.2 L124.6,231.8 L124.6,233.7 L124.6,231.1 L124.6,232.7 L124.7,230.5 L124.7,231.8 L124.7,229.8 L124.8,231.2 L124.8,228.7 L124.8,230.0 L124.8,227.6 L124.9,229.4 L124.9,226.9 L124.9,228.9 L124.9,226.0 L125.0,227.7 L125.0,226.4 L125.1,225.4 L125.2,228.1 L125.2,226.9 L125.3,229.3 L125.4,227.3 L125.5,230.4 L125.5,227.9 L125.6,230.9 L125.7,228.6 L125.8,231.7 L125.8,229.7 L125.9,232.7 L126.0,230.7 L126.1,233.2 L126.2,231.3 L126.2,234.0 L126.3,231.8 L126.4,235.1 L126.5,233.0 L126.5,235.4 L126.6,233.9 L126.7,236.5 L126.8,234.6 L126.8,237.4 L126.9,235.1 L127.0,237.4 L127.1,237.8 L127.2,235.1 L127.2,237.1 L127.3,233.8 L127.4,236.0 L127.5,233.4 L127.5,235.6 L127.6,232.8 L127.7,234.4 L127.8,231.4 L127.8,234.0 L127.9,231.0 L128.0,232.6 L128.1,229.9 L128.2,232.3 L128.2,229.1 L128.3,231.7 L128.4,228.2 L128.5,230.4 L128.5,228.0 L128.6,229.5 L128.7,226.9 L128.8,228.9 L128.8,226.4 L128.9,227.8 L129.0,226.6 L129.5,223.8 L130.0,226.2 L130.0,228.3 L130.1,226.1 L130.1,228.5 L130.2,227.1 L130.2,229.8 L130.3,228.0 L130.3,230.5 L130.4,229.0 L130.4,231.1 L130.5,229.2 L130.5,232.1 L130.6,230.2 L130.6,232.6 L130.7,231.1 L130.7,233.7 L130.8,232.1 L130.8,234.6 L130.9,232.7 L130.9,235.6 L131.0,233.5 L131.0,234.9 L131.1,235.6 L131.2,233.2 L131.3,235.4 L131.4,232.5 L131.6,234.0 L131.7,231.6 L131.8,233.6 L131.9,230.3 L132.0,231.6 L132.2,233.8 L132.4,231.1 L132.6,233.7 L132.8,231.1 L132.9,234.8 L133.1,231.9 L133.3,235.6 L133.5,234.1 L133.6,232.9 L133.8,234.7 L133.9,231.5 L134.0,234.3 L134.2,231.2 L134.3,233.4 L134.5,230.4 L134.6,232.2 L134.7,229.1 L134.9,231.9 L135.0,230.5 L135.3,228.2 L135.7,232.9 L136.0,229.1 L136.3,232.6 L136.7,228.7 L137.0,234.3 L137.3,230.1 L137.7,234.9 L138.0,233.0 L138.1,231.7 L138.2,234.7 L138.3,231.9 L138.4,235.4 L138.6,232.7 L138.7,235.9 L138.8,234.0 L138.9,237.1 L139.0,234.9 L139.1,237.5 L139.2,235.1 L139.3,238.5 L139.4,236.0 L139.6,239.0 L139.7,237.3 L139.8,239.9 L139.9,238.1 L140.0,240.0 L140.1,241.1 L140.3,238.8 L140.4,241.7 L140.6,239.6 L140.7,242.8 L140.9,240.5 L141.0,243.2 L141.1,241.5 L141.3,244.8 L141.4,242.1 L141.6,245.0 L141.7,243.0 L141.9,245.8 L142.0,244.6 L142.4,243.1 L142.9,247.3 L143.3,242.4 L143.7,246.2 L144.1,241.5 L144.6,245.9 L145.0,243.5 L145.1,242.4 L145.2,243.8 L145.2,241.8 L145.3,243.4 L145.4,240.8 L145.5,242.1 L145.5,240.2 L145.6,241.6 L145.7,239.3 L145.8,240.9 L145.8,238.6 L145.9,240.1 L146.0,238.5 L146.2,237.1 L146.4,238.9 L146.5,236.4 L146.7,238.4 L146.9,235.6 L147.1,237.8 L147.3,234.6 L147.5,236.6 L147.6,234.1 L147.8,236.1 L148.0,234.1 L148.3,232.8 L148.6,236.1 L148.9,233.7 L149.1,237.2 L149.4,234.6 L149.7,238.0 L150.0,236.4 L150.1,235.7 L150.2,238.3 L150.3,236.7 L150.5,239.0 L150.6,237.7 L150.7,239.6 L150.8,237.9 L150.9,240.5 L151.0,238.8 L151.2,241.1 L151.3,239.6 L151.4,242.1 L151.5,241.5 L151.9,240.1 L152.3,243.2 L152.7,240.5 L153.1,243.8 L153.5,242.0 L153.6,241.7 L153.8,244.2 L153.9,242.7 L154.0,245.5 L154.2,243.2 L154.3,246.2 L154.4,244.0 L154.6,246.5 L154.7,245.2 L154.8,247.2 L155.0,245.7 L155.1,248.5 L155.2,246.7 L155.4,249.1 L155.5,248.6 L155.7,247.5 L155.8,250.3 L156.0,248.1 L156.2,249.9 L156.3,250.8 L156.5,248.4 L156.6,249.6 L156.7,247.1 L156.8,249.3 L157.0,246.4 L157.1,248.0 L157.2,246.1 L157.4,247.3 L157.5,245.2 L157.6,246.6 L157.7,244.3 L157.9,245.6 L158.0,244.3 L158.3,242.5 L158.6,245.2 L158.9,241.7 L159.1,245.0 L159.4,241.3 L159.7,244.1 L160.0,242.4 L160.1,240.9 L160.2,242.7 L160.3,240.6 L160.5,242.2 L160.6,239.3 L160.7,241.1 L160.8,239.1 L160.9,240.7 L161.0,237.9 L161.2,239.4 L161.3,237.4 L161.4,238.6 L161.5,237.7 L161.7,236.1 L161.9,238.3 L162.2,234.8 L162.4,236.8 L162.6,234.0 L162.8,235.0 L163.1,237.1 L163.4,233.9 L163.7,237.3 L163.9,235.3 L164.2,238.6 L164.5,236.9 L165.0,234.8 L165.5,239.4 L166.0,237.9 L166.2,236.5 L166.3,239.5 L166.4,237.6 L166.6,239.9 L166.8,238.2 L166.9,241.0 L167.1,239.2 L167.2,242.1 L167.3,240.3 L167.5,241.7 L167.7,242.7 L167.8,241.0 L167.9,244.0 L168.1,242.2 L168.2,244.6 L168.4,242.4 L168.6,245.5 L168.7,243.5 L168.8,246.0 L169.0,245.1 L169.1,245.0 L169.2,247.2 L169.3,245.9 L169.4,248.0 L169.5,246.8 L169.6,249.0 L169.7,247.3 L169.8,249.5 L169.8,248.4 L169.9,250.5 L170.0,249.0 L170.1,251.6 L170.2,249.9 L170.3,252.0 L170.4,250.4 L170.5,251.7 L170.5,253.2 L170.6,252.2 L170.6,254.2 L170.6,252.9 L170.6,255.0 L170.7,253.9 L170.7,255.8 L170.7,254.5 L170.7,256.5 L170.8,255.3 L170.8,257.5 L170.8,256.4 L170.8,258.1 L170.9,257.2 L170.9,258.9 L170.9,258.1 L170.9,259.7 L171.0,258.9 L171.0,260.1 L171.1,260.4 L171.2,258.4 L171.2,259.5 L171.3,257.4 L171.4,258.7 L171.5,256.8 L171.5,257.8 L171.6,256.1 L171.7,257.5 L171.8,254.8 L171.8,256.1 L171.9,254.0 L172.0,255.9 L172.1,253.3 L172.2,254.5 L172.2,252.6 L172.3,253.9 L172.4,251.9 L172.5,253.2 L172.5,251.2 L172.6,252.6 L172.7,250.0 L172.8,251.6 L172.8,249.0 L172.9,250.8 L173.0,249.2 L173.1,248.9 L173.2,251.0 L173.4,249.8 L173.5,252.2 L173.6,250.0 L173.8,252.6 L173.9,251.2 L174.0,253.6 L174.1,251.5 L174.2,254.6 L174.4,252.8 L174.5,255.2 L174.6,253.1 L174.8,256.0 L174.9,254.2 L175.0,255.2 L175.1,257.2 L175.3,255.3 L175.4,257.7 L175.6,255.9 L175.7,258.4 L175.8,256.5 L176.0,259.1 L176.1,257.8 L176.2,260.1 L176.4,258.2 L176.5,261.1 L176.7,258.9 L176.8,261.9 L176.9,259.5 L177.1,262.4 L177.2,260.6 L177.4,263.0 L177.5,262.3 L177.6,261.9 L177.6,263.9 L177.7,262.7 L177.8,264.8 L177.8,263.6 L177.9,266.0 L178.0,264.6 L178.1,266.3 L178.1,265.2 L178.2,267.1 L178.3,265.8 L178.3,267.8 L178.4,266.5 L178.5,269.1 L178.5,267.3 L178.6,269.7 L178.7,268.4 L178.7,270.6 L178.8,269.1 L178.9,271.2 L178.9,270.0 L179.0,272.0 L179.1,270.6 L179.2,273.0 L179.2,271.2 L179.3,273.4 L179.4,272.4 L179.4,274.4 L179.5,274.0 L179.6,272.7 L179.6,273.8 L179.7,272.1 L179.8,273.1 L179.9,271.1 L179.9,272.7 L180.0,270.0 L180.1,271.8 L180.1,269.1 L180.2,271.1 L180.3,268.6 L180.4,270.2 L180.4,268.1 L180.5,269.3 L180.6,267.0 L180.6,268.3 L180.7,266.2 L180.8,267.9 L180.9,265.4 L180.9,266.9 L181.0,264.7 L181.1,265.9 L181.1,263.6 L181.2,264.9 L181.3,263.2 L181.4,264.5 L181.4,262.2 L181.5,262.4 L181.6,264.1 L181.7,262.7 L181.8,264.9 L181.8,263.5 L181.9,265.7 L182.0,264.2 L182.1,266.4 L182.2,265.3 L182.2,267.1 L182.3,265.6 L182.4,268.2 L182.5,266.9 L182.6,269.2 L182.7,267.6 L182.8,269.5 L182.8,268.3 L182.9,270.4 L183.0,269.1 L183.1,271.4 L183.2,270.1 L183.2,272.2 L183.3,271.0 L183.4,273.0 L183.5,272.6 L183.6,272.3 L183.6,274.1 L183.7,273.1 L183.7,274.9 L183.8,273.5 L183.8,275.8 L183.9,274.4 L183.9,276.7 L184.0,275.5 L184.1,277.7 L184.1,276.0 L184.2,278.0 L184.2,276.7 L184.3,279.0 L184.3,277.9 L184.4,280.1 L184.4,278.5 L184.5,280.8 L184.6,279.6 L184.6,281.6 L184.7,280.4 L184.7,282.1 L184.8,281.0 L184.8,282.8 L184.9,281.7 L184.9,283.7 L185.0,283.3 L185.0,282.1 L185.1,283.4 L185.1,281.2 L185.2,282.7 L185.2,280.5 L185.2,281.9 L185.3,279.6 L185.3,281.2 L185.3,279.2 L185.4,280.4 L185.4,278.3 L185.4,279.6 L185.5,277.4 L185.5,278.8 L185.6,276.9 L185.6,277.8 L185.6,275.7 L185.7,277.3 L185.7,275.0 L185.8,276.0 L185.8,274.2 L185.8,275.3 L185.9,273.5 L185.9,274.8 L185.9,272.9 L186.0,274.1 L186.0,271.8 L186.1,272.9 L186.1,271.2 L186.1,272.2 L186.2,270.1 L186.2,271.5 L186.2,269.7 L186.3,270.4 L186.3,268.9 L186.3,270.0 L186.4,268.1 L186.4,269.1 L186.5,267.2 L186.5,267.6 L186.7,268.2 L186.8,265.9 L187.0,267.8 L187.1,264.8 L187.3,266.9 L187.4,263.8 L187.6,266.3 L187.8,263.7 L187.9,265.1 L188.1,262.8 L188.2,264.4 L188.4,261.5 L188.5,263.9 L188.7,261.3 L188.8,262.7 L189.0,261.7 L189.2,260.4 L189.4,263.3 L189.6,261.3 L189.8,263.9 L189.9,261.8 L190.1,264.8 L190.3,262.6 L190.5,264.6 L190.6,264.9 L190.8,262.8 L190.9,264.2 L191.0,261.6 L191.1,263.7 L191.2,261.4 L191.4,262.6 L191.5,260.4 L191.6,262.0 L191.8,259.5 L191.9,261.2 L192.0,258.8 L192.1,260.1 L192.2,257.9 L192.4,259.5 L192.5,257.8 L192.7,257.3 L192.9,260.7 L193.1,258.4 L193.3,260.6 L193.5,258.5 L193.8,261.5 L194.0,259.6 L194.2,262.4 L194.4,260.3 L194.6,263.2 L194.8,260.8 L195.0,263.0 L195.2,264.6 L195.4,262.3 L195.6,264.9 L195.8,262.4 L196.0,265.9 L196.2,263.1 L196.4,266.4 L196.6,263.9 L196.8,266.8 L197.0,265.8 L197.2,264.9 L197.3,268.2 L197.5,265.6 L197.7,268.8 L197.8,266.8 L198.0,269.6 L198.2,267.2 L198.3,270.2 L198.5,268.0 L198.7,270.8 L198.8,268.8 L199.0,270.3 L199.1,270.7 L199.1,268.8 L199.2,270.0 L199.3,267.6 L199.4,269.3 L199.4,267.2 L199.5,268.4 L199.6,266.5 L199.6,267.6 L199.7,265.7 L199.8,266.6 L199.9,264.5 L199.9,266.1 L200.0,263.9 L200.1,265.3 L200.1,263.2 L200.2,264.3 L200.3,262.6 L200.4,263.6 L200.4,261.6 L200.5,262.2 L200.7,263.0 L200.9,259.6 L201.1,262.2 L201.3,258.9 L201.5,261.7 L201.8,259.0 L202.0,260.6 L202.2,257.8 L202.4,260.7 L202.6,257.4 L202.8,258.5 L203.0,259.8 L203.2,257.4 L203.4,260.2 L203.5,258.4 L203.7,261.6 L203.9,259.3 L204.1,261.8 L204.3,260.2 L204.4,262.4 L204.6,260.7 L204.8,263.6 L205.0,262.2 L205.2,261.7 L205.4,264.3 L205.6,262.2 L205.8,265.6 L206.0,263.0 L206.2,265.8 L206.5,263.6 L206.7,267.2 L206.9,264.5 L207.1,267.2 L207.3,265.1 L207.5,267.4 L207.7,268.5 L207.9,266.8 L208.1,269.1 L208.3,267.3 L208.5,270.5 L208.7,268.0 L208.8,271.3 L209.0,269.1 L209.2,271.6 L209.4,269.4 L209.6,272.6 L209.8,270.5 L210.0,272.2 L210.2,273.4 L210.3,271.9 L210.5,274.2 L210.6,272.7 L210.8,275.1 L210.9,273.2 L211.1,275.8 L211.2,273.8 L211.4,276.3 L211.6,274.6 L211.7,276.9 L211.9,275.0 L212.0,278.1 L212.2,275.7 L212.3,278.4 L212.5,278.1 L212.6,277.2 L212.8,279.7 L212.9,278.4 L213.0,280.4 L213.1,279.2 L213.2,281.6 L213.4,280.1 L213.5,282.5 L213.6,280.6 L213.8,283.1 L213.9,281.3 L214.0,283.9 L214.1,282.1 L214.2,284.7 L214.4,283.1 L214.5,284.6 L214.6,284.9 L214.7,282.5 L214.8,284.4 L214.9,281.7 L215.0,283.3 L215.1,280.9 L215.2,282.9 L215.3,280.3 L215.4,281.7 L215.5,279.4 L215.6,281.3 L215.7,278.9 L215.8,279.9 L215.9,277.9 L216.0,279.5 L216.1,276.9 L216.2,278.5 L216.3,275.9 L216.4,277.6 L216.5,276.6 L216.6,276.0 L216.8,277.9 L216.9,276.7 L217.0,278.7 L217.1,277.2 L217.2,279.8 L217.4,278.2 L217.5,280.8 L217.6,278.9 L217.8,281.0 L217.9,279.8 L218.0,282.2 L218.1,280.0 L218.2,282.6 L218.4,281.4 L218.5,282.7 L218.6,283.7 L218.7,281.9 L218.8,284.7 L218.9,282.9 L219.0,285.3 L219.2,283.6 L219.3,286.2 L219.4,284.7 L219.5,287.3 L219.6,285.6 L219.7,287.9 L219.8,286.4 L219.9,288.7 L220.0,287.0 L220.1,289.6 L220.2,288.0 L220.3,290.2 L220.5,288.5 L220.6,291.2 L220.7,289.0 L220.8,291.8 L220.9,290.2 L221.0,291.2 L221.2,292.1 L221.3,289.5 L221.5,291.3 L221.7,289.0 L221.8,290.9 L222.0,287.9 L222.2,289.8 L222.3,286.8 L222.5,289.0 L222.7,286.4 L222.8,288.2 L223.0,285.4 L223.2,288.0 L223.3,285.1 L223.5,287.1 L223.7,283.9 L223.8,286.0 L224.0,284.5 L224.1,284.1 L224.1,286.5 L224.2,285.1 L224.3,287.2 L224.3,285.7 L224.4,287.9 L224.5,286.5 L224.5,288.9 L224.6,287.5 L224.7,289.7 L224.8,288.2 L224.8,290.5 L224.9,288.7 L225.0,290.9 L225.0,289.5 L225.1,292.2 L225.2,290.7 L225.2,292.4 L225.3,291.6 L225.4,293.8 L225.4,292.4 L225.5,293.7 L225.6,293.8 L225.7,291.5 L225.8,292.9 L225.9,291.1 L225.9,292.5 L226.0,290.4 L226.1,291.5 L226.2,289.0 L226.3,290.9 L226.4,288.3 L226.5,290.3 L226.6,288.0 L226.6,289.0 L226.7,286.7 L226.8,288.5 L226.9,286.4 L227.0,287.6 L227.1,285.5 L227.2,286.8 L227.3,284.8 L227.4,285.7 L227.4,283.4 L227.5,285.1 L227.6,282.7 L227.7,284.2 L227.8,282.2 L227.9,283.4 L228.0,281.4 L228.1,282.6 L228.1,280.4 L228.2,281.8 L228.3,279.6 L228.4,281.3 L228.5,279.6 L228.6,279.3 L228.8,281.7 L228.9,279.7 L229.0,282.4 L229.1,281.0 L229.2,283.6 L229.4,281.2 L229.5,284.2 L229.6,282.4 L229.8,284.6 L229.9,283.2 L230.0,284.1 L230.2,285.8 L230.4,283.9 L230.6,286.8 L230.9,284.5 L231.1,287.4 L231.3,285.7 L231.5,287.1 L231.6,287.8 L231.8,285.0 L231.9,286.9 L232.1,284.1 L232.2,286.5 L232.4,283.2 L232.5,285.5 L232.6,282.8 L232.8,284.4 L232.9,282.0 L233.1,284.1 L233.2,281.2 L233.4,282.9 L233.5,281.4 L233.6,280.4 L233.7,281.9 L233.7,279.7 L233.8,280.9 L233.9,278.3 L233.9,279.9 L234.0,277.7 L234.1,279.1 L234.2,277.1 L234.2,278.2 L234.3,276.4 L234.4,277.8 L234.5,275.2 L234.6,277.1 L234.6,274.9 L234.7,276.1 L234.8,273.9 L234.8,275.3 L234.9,273.0 L235.0,273.4 L235.1,274.5 L235.2,272.0 L235.3,273.5 L235.5,270.7 L235.6,272.6 L235.7,270.1 L235.8,272.2 L235.9,269.6 L236.0,271.1 L236.1,268.4 L236.2,270.2 L236.4,267.7 L236.5,269.4 L236.6,267.0 L236.7,268.8 L236.8,266.2 L236.9,267.8 L237.0,265.4 L237.2,267.2 L237.3,264.9 L237.4,266.5 L237.5,264.8 L237.9,262.5 L238.3,266.5 L238.8,262.4 L239.2,266.2 L239.6,262.3 L240.0,263.6 L240.2,265.3 L240.3,263.2 L240.5,266.3 L240.7,264.3 L240.8,267.1 L241.0,264.8 L241.2,267.6 L241.3,266.1 L241.5,268.8 L241.7,266.6 L241.8,269.4 L242.0,268.8 L242.1,267.5 L242.3,270.6 L242.4,268.9 L242.5,271.1 L242.7,269.2 L242.8,272.2 L242.9,270.5 L243.1,272.5 L243.2,271.2 L243.3,273.2 L243.5,271.9 L243.6,274.5 L243.7,272.6 L243.9,275.1 L244.0,274.1 L244.2,272.9 L244.4,275.3 L244.5,271.9 L244.7,274.1 L244.9,271.4 L245.1,273.7 L245.3,270.4 L245.5,272.4 L245.6,269.7 L245.8,271.9 L246.0,270.4 L246.1,269.9 L246.2,272.1 L246.3,270.6 L246.5,272.9 L246.6,271.6 L246.7,273.5 L246.8,272.0 L246.9,274.2 L247.0,273.1 L247.2,275.4 L247.3,273.8 L247.4,276.0 L247.5,275.2 L247.6,273.8 L247.7,275.3 L247.8,273.2 L247.9,275.0 L248.0,272.6 L248.1,274.0 L248.2,271.5 L248.3,273.3 L248.4,270.9 L248.5,272.1 L248.6,270.1 L248.7,271.5 L248.8,269.1 L248.9,270.7 L249.0,268.5 L249.1,270.1 L249.2,267.4 L249.3,269.1 L249.4,266.9 L249.5,268.4 L249.6,265.8 L249.7,267.4 L249.8,264.9 L249.9,266.9 L250.0,265.3 L250.2,264.4 L250.4,267.2 L250.5,265.6 L250.7,268.3 L250.9,266.1 L251.1,268.8 L251.2,266.7 L251.4,269.8 L251.6,267.2 L251.8,269.8 L252.0,268.0 L252.1,270.9 L252.3,268.9 L252.5,270.8 L252.6,271.0 L252.8,268.6 L252.9,270.5 L253.0,267.8 L253.1,269.5 L253.2,267.0 L253.4,268.9 L253.5,266.0 L253.6,268.0 L253.8,265.4 L253.9,266.7 L254.0,264.4 L254.1,266.3 L254.2,263.6 L254.4,265.6 L254.5,263.7 L254.6,262.9 L254.7,263.8 L254.7,261.7 L254.8,263.0 L254.9,261.3 L255.0,262.6 L255.0,260.2 L255.1,261.4 L255.2,259.3 L255.3,261.0 L255.3,258.7 L255.4,259.8 L255.5,257.7 L255.6,259.2 L255.7,257.0 L255.7,258.7 L255.8,256.0 L255.9,257.9 L256.0,255.6 L256.0,256.7 L256.1,254.6 L256.2,255.7 L256.3,253.5 L256.3,255.1 L256.4,253.1 L256.5,253.4 L256.8,254.4 L257.1,251.0 L257.4,254.0 L257.6,250.6 L257.9,253.2 L258.2,250.4 L258.5,250.8 L258.6,252.7 L258.7,250.7 L258.8,253.5 L258.9,251.9 L259.0,253.8 L259.1,252.8 L259.2,254.9 L259.2,253.4 L259.3,255.6 L259.4,254.1 L259.5,256.5 L259.6,255.0 L259.7,257.4 L259.8,255.9 L259.9,258.3 L260.0,257.5 L260.3,256.7 L260.6,259.5 L260.9,256.8 L261.2,260.2 L261.5,259.1 L261.9,257.2 L262.2,260.0 L262.6,256.2 L263.0,257.7 L263.2,259.7 L263.3,257.3 L263.5,260.4 L263.7,258.3 L263.8,261.4 L264.0,259.1 L264.2,262.1 L264.3,260.2 L264.5,262.5 L264.7,260.4 L264.8,263.0 L265.0,262.8 L265.2,261.2 L265.4,263.0 L265.5,260.4 L265.7,262.5 L265.9,259.3 L266.1,261.6 L266.3,258.6 L266.4,260.7 L266.6,257.7 L266.8,258.4 L266.9,259.7 L266.9,258.3 L267.0,260.5 L267.1,259.1 L267.1,261.3 L267.2,260.4 L267.2,262.1 L267.3,260.8 L267.4,263.4 L267.4,261.8 L267.5,264.0 L267.6,262.7 L267.6,264.9 L267.7,263.2 L267.7,265.3 L267.8,264.4 L267.9,266.4 L267.9,265.2 L268.0,267.3 L268.1,265.9 L268.1,267.7 L268.2,266.5 L268.2,268.6 L268.3,267.3 L268.4,269.3 L268.4,267.9 L268.5,269.3 L268.6,270.3 L268.7,267.9 L268.8,269.4 L268.9,266.5 L269.1,268.4 L269.2,266.3 L269.3,267.5 L269.4,265.1 L269.5,266.6 L269.6,264.4 L269.7,265.7 L269.8,263.6 L269.9,265.4 L270.1,262.8 L270.2,264.5 L270.3,262.2 L270.4,263.8 L270.5,261.9 L270.7,260.0 L270.9,263.4 L271.1,259.3 L271.3,262.3 L271.5,259.2 L271.7,261.4 L271.9,258.0 L272.1,260.8 L272.3,257.2 L272.5,258.2 L272.6,259.4 L272.7,256.5 L272.8,258.6 L272.9,256.0 L273.0,257.5 L273.1,255.4 L273.2,256.8 L273.3,254.1 L273.4,256.4 L273.5,253.8 L273.6,255.7 L273.7,253.1 L273.8,254.6 L273.9,251.6 L274.0,252.5 L274.1,253.5 L274.1,250.8 L274.2,252.1 L274.2,250.2 L274.3,251.5 L274.3,249.4 L274.4,250.9 L274.4,248.6 L274.5,250.0 L274.6,247.7 L274.6,248.8 L274.7,246.7 L274.7,247.9 L274.8,245.9 L274.8,247.5 L274.9,245.0 L274.9,246.5 L275.0,244.8 L275.4,242.9 L275.8,246.3 L276.2,244.9 L276.6,243.6 L276.9,247.2 L277.3,243.9 L277.6,247.6 L278.0,246.4 L278.1,245.8 L278.2,247.8 L278.2,246.0 L278.3,248.7 L278.4,246.9 L278.5,249.8 L278.6,247.9 L278.6,250.1 L278.7,249.0 L278.8,251.4 L278.9,249.8 L278.9,251.9 L279.0,250.3 L279.1,252.5 L279.2,251.1 L279.3,253.3 L279.3,251.8 L279.4,254.3 L279.5,253.6 L279.9,251.9 L280.2,255.0 L280.6,251.4 L281.0,252.1 L281.1,253.1 L281.2,250.5 L281.3,252.5 L281.4,249.7 L281.5,251.3 L281.6,248.8 L281.6,250.8 L281.7,248.1 L281.8,250.0 L281.9,247.3 L282.0,248.9 L282.1,246.4 L282.2,246.9 L282.2,248.4 L282.3,247.4 L282.3,249.3 L282.4,247.9 L282.4,250.0 L282.5,248.5 L282.6,250.7 L282.6,249.5 L282.6,251.6 L282.7,250.2 L282.8,252.7 L282.8,251.0 L282.9,253.1 L282.9,252.1 L282.9,254.2 L283.0,252.4 L283.1,254.7 L283.1,253.5 L283.1,255.9 L283.2,254.1 L283.2,256.5 L283.3,254.9 L283.4,257.4 L283.4,255.7 L283.4,257.9 L283.5,258.0 L283.6,257.0 L283.7,259.5 L283.8,258.0 L284.0,260.2 L284.1,258.3 L284.2,261.3 L284.3,259.5 L284.4,261.8 L284.5,260.3 L284.7,262.4 L284.8,261.0 L284.9,263.3 L285.0,263.1 L285.1,260.9 L285.2,263.1 L285.3,260.4 L285.4,262.1 L285.4,259.4 L285.5,261.6 L285.6,258.6 L285.7,260.6 L285.8,258.2 L285.9,259.8 L286.0,256.9 L286.1,259.1 L286.2,256.7 L286.3,258.2 L286.4,255.7 L286.4,257.0 L286.5,254.4 L286.6,256.6 L286.7,253.8 L286.8,254.3 L286.8,256.1 L286.9,254.3 L286.9,257.0 L287.0,255.2 L287.0,257.8 L287.1,256.0 L287.1,258.4 L287.2,257.0 L287.2,259.4 L287.2,257.6 L287.3,260.2 L287.3,258.7 L287.4,261.1 L287.4,259.4 L287.5,261.9 L287.5,260.5 L287.6,262.8 L287.6,260.9 L287.6,263.2 L287.7,261.7 L287.7,264.0 L287.8,262.9 L287.8,264.9 L287.9,263.7 L287.9,265.8 L288.0,264.1 L288.0,265.8 L288.1,267.2 L288.1,265.5 L288.2,268.1 L288.3,266.1 L288.4,268.8 L288.4,266.8 L288.5,269.7 L288.6,267.9 L288.7,270.0 L288.7,268.5 L288.8,271.3 L288.9,269.6 L289.0,271.9 L289.0,270.0 L289.1,272.9 L289.2,271.4 L289.3,273.5 L289.3,272.2 L289.4,274.0 L289.5,272.4 L289.6,275.0 L289.6,273.4 L289.7,275.8 L289.8,274.3 L289.9,276.5 L289.9,275.1 L290.0,276.7 L290.1,277.1 L290.1,274.8 L290.2,276.0 L290.3,274.0 L290.3,275.6 L290.4,273.1 L290.5,274.7 L290.5,272.1 L290.6,273.6 L290.7,271.3 L290.8,272.7 L290.8,270.5 L290.9,272.0 L291.0,270.0 L291.0,271.8 L291.1,269.2 L291.2,270.5 L291.2,268.0 L291.3,269.9 L291.4,267.2 L291.4,269.0 L291.5,267.7 L291.6,265.9 L291.7,267.9 L291.8,265.1 L291.8,266.9 L291.9,264.4 L292.0,266.1 L292.1,263.9 L292.2,265.2 L292.2,263.3 L292.3,265.1 L292.4,262.3 L292.5,264.2 L292.6,261.7 L292.7,263.1 L292.8,261.0 L292.8,262.5 L292.9,259.7 L293.0,260.6 L293.1,262.0 L293.2,259.9 L293.3,263.2 L293.4,260.9 L293.6,263.4 L293.7,261.7 L293.8,264.5 L293.9,262.3 L294.0,265.2 L294.1,263.3 L294.2,266.2 L294.3,264.3 L294.4,266.9 L294.6,264.8 L294.7,267.9 L294.8,265.8 L294.9,268.3 L295.0,268.1 L295.1,267.2 L295.3,269.9 L295.4,267.5 L295.5,270.5 L295.7,268.5 L295.8,271.5 L295.9,269.0 L296.1,272.3 L296.2,269.9 L296.3,272.5 L296.5,271.0 L296.6,273.4 L296.7,271.3 L296.9,274.8 L297.0,273.3 L297.2,272.5 L297.5,276.0 L297.7,273.7 L297.9,276.5 L298.1,273.7 L298.4,277.5 L298.6,274.9 L298.8,278.3 L299.0,275.7 L299.3,278.9 L299.5,277.6 L299.8,275.8 L300.0,280.1 L300.2,276.7 L300.5,280.7 L300.8,277.7 L301.0,281.7 L301.2,278.0 L301.5,282.0 L301.8,279.1 L302.0,282.1 L302.2,279.4 L302.5,281.9 L302.6,282.4 L302.7,279.7 L302.8,281.1 L302.9,278.8 L303.0,280.9 L303.1,278.3 L303.2,280.0 L303.3,277.5 L303.4,278.9 L303.5,276.8 L303.6,278.1 L303.7,275.8 L303.8,277.8 L303.9,274.6 L304.0,276.5 L304.1,274.3 L304.2,276.3 L304.3,273.6 L304.4,275.0 L304.5,273.6 L304.7,272.3 L304.8,273.9 L305.0,271.2 L305.2,273.1 L305.3,269.9 L305.5,270.8 L305.7,272.5 L305.8,270.2 L306.0,273.4 L306.1,271.0 L306.3,274.3 L306.4,271.8 L306.6,274.8 L306.7,273.1 L306.9,275.9 L307.0,273.6 L307.2,276.5 L307.3,274.1 L307.5,276.2 L307.6,276.5 L307.7,274.1 L307.8,276.2 L307.9,273.2 L308.1,274.9 L308.2,272.3 L308.3,274.1 L308.4,271.4 L308.5,273.1 L308.6,270.5 L308.7,272.7 L308.8,270.1 L308.9,272.1 L309.1,269.3 L309.2,270.8 L309.3,268.7 L309.4,270.2 L309.5,268.9 L309.7,266.9 L309.8,269.1 L310.0,266.0 L310.1,268.1 L310.3,265.6 L310.4,267.7 L310.6,264.3 L310.7,267.0 L310.9,263.7 L311.0,266.3 L311.2,264.3 L311.3,263.5 L311.3,266.4 L311.4,264.7 L311.5,267.0 L311.6,265.2 L311.6,267.7 L311.7,266.4 L311.8,268.9 L311.9,267.0 L311.9,269.5 L312.0,267.7 L312.1,270.5 L312.1,268.9 L312.2,271.0 L312.3,269.8 L312.4,271.8 L312.4,270.3 L312.5,272.0 L312.7,273.6 L312.9,271.0 L313.1,274.1 L313.2,271.7 L313.4,274.7 L313.6,272.2 L313.8,275.9 L314.0,275.0 L314.1,274.2 L314.2,276.7 L314.3,274.6 L314.4,277.3 L314.5,275.3 L314.6,278.4 L314.7,276.2 L314.8,279.1 L314.8,277.0 L314.9,279.9 L315.0,278.2 L315.1,280.6 L315.2,278.5 L315.3,281.3 L315.4,279.6 L315.5,280.6 L315.6,281.7 L315.7,278.8 L315.8,280.7 L315.9,278.4 L316.0,279.9 L316.1,277.7 L316.2,279.4 L316.4,276.3 L316.5,278.7 L316.6,276.0 L316.7,277.9 L316.8,275.4 L316.9,277.2 L317.0,275.3 L317.1,275.2 L317.1,277.2 L317.1,275.9 L317.2,277.8 L317.2,276.8 L317.3,278.7 L317.4,277.3 L317.4,279.8 L317.4,278.4 L317.5,280.6 L317.6,279.2 L317.6,281.1 L317.7,279.7 L317.7,281.9 L317.8,280.7 L317.8,282.0 L317.8,282.3 L317.9,280.1 L317.9,281.4 L318.0,279.2 L318.0,281.0 L318.0,278.6 L318.1,279.7 L318.1,277.7 L318.1,278.9 L318.2,277.0 L318.2,278.3 L318.3,276.5 L318.3,277.7 L318.3,275.3 L318.4,276.8 L318.4,274.7 L318.5,276.0 L318.5,274.7 L318.5,273.5 L318.6,275.0 L318.6,272.3 L318.7,274.2 L318.7,271.5 L318.7,273.1 L318.8,270.7 L318.8,272.1 L318.9,270.2 L318.9,271.4 L318.9,269.4 L319.0,270.9 L319.0,268.5 L319.1,269.9 L319.1,267.9 L319.1,269.0 L319.2,267.0 L319.2,268.2 L319.3,266.4 L319.3,267.7 L319.3,265.4 L319.4,266.7 L319.4,264.8 L319.5,266.1 L319.5,264.5 L319.6,263.5 L319.6,264.8 L319.6,262.4 L319.7,264.3 L319.8,261.6 L319.8,263.5 L319.9,260.7 L319.9,262.5 L319.9,260.0 L320.0,261.3 L320.1,259.5 L320.1,260.5 L320.1,258.3 L320.2,260.1 L320.2,257.7 L320.3,259.1 L320.4,257.0 L320.4,258.2 L320.4,256.1 L320.5,257.0 L320.8,257.8 L321.0,254.9 L321.2,257.0 L321.5,254.0 L321.8,257.2 L322.0,252.8 L322.2,256.1 L322.5,253.7 L322.8,252.6 L323.1,254.9 L323.4,251.2 L323.7,254.7 L324.0,253.4 L324.1,250.9 L324.2,253.2 L324.3,250.4 L324.4,252.4 L324.5,249.8 L324.6,251.0 L324.7,248.7 L324.8,250.5 L324.9,248.1 L325.0,248.4 L325.1,249.7 L325.1,248.1 L325.2,250.9 L325.3,248.9 L325.4,251.9 L325.4,250.0 L325.5,252.6 L325.6,250.9 L325.6,253.4 L325.7,251.4 L325.8,253.7 L325.9,252.7 L325.9,254.6 L326.0,254.2 L326.2,253.0 L326.5,255.9 L326.8,253.2 L327.0,257.4 L327.2,254.2 L327.5,257.2 L327.8,254.4 L328.0,258.4 L328.2,256.0 L328.5,257.2 L328.6,258.2 L328.7,255.2 L328.8,257.2 L328.9,254.6 L329.0,256.2 L329.1,254.0 L329.2,255.8 L329.3,253.0 L329.4,254.4 L329.5,253.3 L329.5,252.1 L329.6,253.0 L329.6,251.0 L329.7,252.4 L329.7,250.1 L329.7,251.6 L329.8,249.4 L329.8,250.4 L329.8,248.4 L329.9,249.6 L329.9,247.7 L330.0,248.9 L330.0,247.8 L330.0,246.3 L330.0,247.6 L330.1,245.5 L330.1,247.0 L330.1,244.8 L330.1,245.9 L330.2,243.8 L330.2,245.3 L330.2,243.4 L330.2,244.3 L330.3,242.1 L330.3,243.5 L330.3,241.6 L330.3,243.0 L330.4,240.6 L330.4,242.1 L330.4,239.8 L330.4,241.0 L330.5,239.4 L330.5,240.7 L330.5,238.2 L330.5,239.3 L330.6,237.8 L330.6,238.6 L330.6,236.5 L330.6,237.8 L330.7,235.8 L330.7,237.4 L330.7,235.0 L330.7,236.6 L330.8,234.4 L330.8,235.3 L330.8,233.7 L330.8,234.9 L330.9,232.9 L330.9,234.2 L330.9,232.8 L330.9,231.6 L331.0,232.9 L331.0,230.8 L331.0,231.9 L331.1,230.0 L331.1,231.3 L331.1,228.7 L331.1,230.5 L331.2,228.4 L331.2,229.7 L331.2,227.3 L331.3,228.8 L331.3,226.5 L331.3,227.9 L331.4,225.7 L331.4,227.2 L331.4,225.1 L331.5,226.0 L331.5,224.1 L331.5,225.3 L331.6,223.3 L331.6,224.3 L331.6,222.3 L331.6,223.5 L331.7,221.5 L331.7,223.2 L331.7,220.9 L331.8,221.9 L331.8,219.9 L331.8,221.2 L331.9,219.3 L331.9,219.4 L331.9,221.1 L331.9,219.7 L331.9,221.6 L332.0,220.7 L332.0,222.6 L332.0,221.1 L332.0,223.5 L332.0,222.3 L332.0,224.1 L332.0,223.0 L332.1,225.1 L332.1,223.9 L332.1,225.8 L332.1,224.3 L332.1,226.7 L332.1,225.6 L332.1,227.2 L332.2,226.4 L332.2,228.3 L332.2,226.9 L332.2,229.0 L332.2,227.8 L332.2,229.8 L332.2,228.6 L332.2,230.7 L332.3,229.2 L332.3,231.6 L332.3,230.1 L332.3,232.5 L332.3,230.9 L332.3,233.2 L332.3,232.1 L332.4,234.0 L332.4,232.5 L332.4,234.7 L332.4,233.3 L332.4,235.3 L332.4,234.1 L332.4,236.3 L332.5,235.0 L332.5,237.0 L332.5,236.1 L332.5,237.9 L332.5,236.9 L332.5,238.6 L332.5,237.6 L332.6,239.8 L332.6,238.3 L332.6,240.6 L332.6,240.2 L332.6,238.5 L332.7,240.4 L332.7,237.7 L332.7,239.1 L332.8,237.2 L332.8,238.4 L332.9,236.5 L332.9,237.4 L332.9,235.2 L333.0,237.0 L333.0,235.4 L333.0,235.0 L333.0,237.2 L333.0,235.7 L333.0,238.0 L333.0,236.7 L333.1,238.5 L333.1,237.4 L333.1,239.4 L333.1,238.3 L333.1,240.2 L333.1,239.1 L333.1,241.4 L333.1,240.1 L333.1,241.9 L333.1,240.7 L333.1,242.7 L333.1,241.3 L333.1,243.5 L333.2,242.2 L333.2,244.4 L333.2,242.9 L333.2,244.9 L333.2,244.1 L333.2,245.8 L333.2,244.6 L333.2,246.5 L333.2,245.7 L333.2,247.7 L333.2,246.1 L333.2,248.2 L333.3,247.2 L333.3,249.3 L333.3,247.9 L333.3,250.1 L333.3,248.7 L333.3,249.8 L333.3,250.3 L333.3,248.6 L333.3,249.7 L333.3,247.7 L333.4,248.6 L333.4,246.5 L333.4,248.0 L333.4,245.9 L333.4,247.2 L333.4,245.1 L333.4,246.4 L333.4,244.4 L333.5,245.2 L333.5,243.7 L333.5,244.4 L333.5,242.7 L333.5,243.7 L333.5,242.0 L333.5,243.0 L333.5,240.8 L333.6,242.3 L333.6,240.3 L333.6,241.5 L333.6,239.6 L333.6,240.4 L333.6,238.7 L333.6,239.7 L333.6,237.6 L333.7,238.9 L333.7,236.8 L333.7,237.9 L333.7,235.9 L333.7,236.4 L333.7,237.9 L333.7,236.8 L333.7,238.7 L333.8,237.5 L333.8,239.5 L333.8,238.0 L333.8,240.3 L333.8,239.1 L333.8,240.7 L333.8,240.0 L333.9,242.0 L333.9,240.8 L333.9,242.7 L333.9,241.4 L333.9,243.6 L333.9,242.4 L333.9,244.1 L334.0,243.3 L334.0,245.4 L334.0,244.0 L334.0,246.0 L334.0,244.7 L334.0,246.6 L334.0,245.8 L334.1,247.3 L334.1,246.2 L334.1,248.2 L334.1,248.3 L334.1,246.9 L334.1,248.1 L334.1,246.2 L334.2,247.4 L334.2,245.3 L334.2,246.3 L334.2,244.4 L334.2,245.4 L334.2,243.7 L334.2,245.0 L334.2,242.9 L334.3,243.9 L334.3,241.9 L334.3,243.1 L334.3,241.4 L334.3,242.3 L334.3,240.5 L334.3,241.5 L334.4,239.5 L334.4,240.8 L334.4,238.6 L334.4,239.8 L334.4,237.9 L334.4,239.4 L334.4,237.3 L334.4,238.1 L334.5,236.4 L334.5,237.4 L334.5,235.6 L334.5,236.1 L334.5,237.0 L334.5,236.2 L334.5,238.0 L334.6,237.0 L334.6,238.7 L334.6,237.6 L334.6,239.4 L334.6,238.6 L334.6,240.3 L334.7,239.2 L334.7,241.4 L334.7,240.0 L334.7,241.8 L334.7,240.9 L334.7,242.9 L334.8,241.6 L334.8,243.8 L334.8,242.1 L334.8,244.6 L334.8,243.4 L334.8,245.5 L334.9,244.0 L334.9,245.9 L334.9,245.0 L334.9,246.2 L334.9,246.2 L334.9,244.6 L335.0,245.4 L335.0,243.3 L335.0,244.7 L335.0,242.6 L335.0,243.7 L335.0,241.9 L335.1,243.0 L335.1,241.2 L335.1,242.4 L335.1,240.3 L335.1,241.2 L335.1,239.1 L335.2,240.6 L335.2,238.8 L335.2,239.5 L335.2,237.7 L335.2,239.0 L335.2,237.2 L335.3,238.1 L335.3,236.0 L335.3,236.5 L335.3,237.7 L335.4,236.4 L335.4,238.7 L335.5,237.1 L335.5,239.2 L335.6,237.9 L335.6,240.5 L335.7,238.7 L335.7,241.3 L335.8,239.8 L335.8,241.3 L335.8,241.2 L335.8,239.5 L335.8,240.6 L335.9,238.4 L335.9,239.6 L335.9,237.9 L335.9,238.7 L335.9,237.0 L335.9,238.0 L336.0,236.3 L336.0,237.5 L336.0,235.3 L336.0,236.8 L336.0,234.6 L336.0,235.8 L336.1,234.0 L336.1,235.2 L336.1,233.0 L336.1,234.1 L336.1,232.1 L336.1,233.5 L336.2,231.3 L336.2,232.8 L336.2,230.4 L336.2,231.5 L336.2,229.5 L336.2,230.7 L336.3,228.6 L336.3,230.0 L336.3,228.2 L336.3,229.5 L336.3,227.3 L336.3,228.4 L336.4,226.5 L336.4,227.7 L336.4,225.9 L336.4,225.9 L336.4,226.2 L336.4,224.3 L336.4,225.3 L336.4,223.6 L336.4,224.6 L336.4,222.8 L336.4,224.0 L336.4,221.9 L336.5,223.0 L336.5,221.3 L336.5,222.2 L336.5,220.2 L336.5,221.4 L336.5,219.8 L336.5,220.8 L336.5,218.8 L336.5,220.2 L336.5,218.2 L336.5,219.0 L336.5,217.4 L336.5,218.4 L336.5,216.4 L336.5,217.5 L336.5,215.4 L336.6,216.8 L336.6,214.6 L336.6,216.2 L336.6,214.1 L336.6,215.4 L336.6,213.2 L336.6,214.1 L336.6,212.2 L336.6,213.3 L336.6,211.8 L336.6,212.6 L336.6,210.9 L336.6,212.2 L336.6,209.8 L336.6,211.1 L336.6,209.2 L336.7,210.5 L336.7,208.2 L336.7,209.6 L336.7,207.6 L336.7,208.5 L336.7,206.9 L336.7,208.0 L336.7,205.9 L336.7,207.3 L336.7,205.0 L336.7,206.6 L336.7,204.5 L336.7,205.3 L336.7,203.4 L336.7,204.7 L336.7,202.9 L336.8,204.0 L336.8,202.1 L336.8,203.0 L336.8,201.2 L336.8,202.3 L336.8,200.3 L336.8,201.3 L336.8,199.4 L336.8,200.8 L336.8,198.8 L336.8,200.0 L336.8,197.8 L336.8,198.8 L336.8,197.2 L336.8,198.4 L336.8,196.2 L336.9,197.6 L336.9,195.7 L336.9,196.9 L336.9,194.6 L336.9,195.7 L336.9,194.0 L336.9,195.3 L336.9,193.3 L336.9,193.4 L336.9,194.9 L336.9,193.3 L336.9,195.3 L336.9,194.2 L336.9,196.2 L336.9,195.1 L336.9,197.2 L336.9,196.1 L336.9,197.7 L336.9,196.9 L336.9,198.6 L336.9,197.8 L336.9,199.3 L336.9,198.4 L337.0,200.3 L337.0,199.4 L337.0,201.1 L337.0,199.7 L337.0,201.9 L337.0,200.8 L337.0,202.8 L337.0,201.6 L337.0,203.3 L337.0,202.4 L337.0,204.1 L337.0,203.1 L337.0,204.9 L337.0,204.0 L337.0,206.2 L337.0,204.6 L337.0,206.9 L337.0,205.5 L337.0,207.6 L337.0,206.3 L337.0,208.6 L337.0,207.4 L337.0,209.3 L337.0,208.1 L337.0,209.8 L337.0,208.6 L337.0,210.8 L337.1,209.4 L337.1,211.7 L337.1,210.4 L337.1,212.2 L337.1,211.5 L337.1,213.2 L337.1,211.9 L337.1,213.8 L337.1,213.0 L337.1,214.5 L337.1,213.8 L337.1,215.7 L337.1,214.7 L337.1,216.2 L337.1,215.9 L337.1,214.7 L337.1,216.2 L337.1,214.3 L337.1,215.0 L337.1,213.0 L337.1,214.6 L337.1,212.6 L337.1,213.5 L337.1,211.6 L337.1,212.7 L337.1,210.9 L337.1,212.0 L337.1,210.2 L337.1,210.9 L337.2,209.4 L337.2,210.2 L337.2,208.6 L337.2,209.6 L337.2,207.5 L337.2,208.6 L337.2,206.7 L337.2,208.1 L337.2,206.1 L337.2,207.2 L337.2,205.4 L337.2,206.6 L337.2,204.4 L337.2,205.3 L337.2,203.8 L337.2,204.9 L337.2,202.9 L337.2,204.1 L337.2,202.2 L337.2,203.3 L337.2,201.1 L337.2,202.2 L337.2,200.4 L337.2,201.4 L337.2,199.5 L337.2,200.9 L337.2,198.7 L337.2,199.8 L337.2,198.2 L337.2,199.2 L337.2,197.2 L337.3,198.2 L337.3,196.6 L337.3,197.6 L337.3,195.8 L337.3,196.8 L337.3,195.0 L337.3,195.8 L337.3,194.1 L337.3,195.2 L337.3,193.1 L337.3,194.1 L337.3,192.3 L337.3,193.4 L337.3,191.7 L337.3,192.1 L337.3,193.3 L337.3,192.0 L337.3,194.2 L337.3,193.0 L337.3,194.7 L337.3,193.5 L337.3,195.5 L337.3,194.6 L337.3,196.2 L337.4,195.1 L337.4,197.3 L337.4,195.9 L337.4,198.2 L337.4,196.7 L337.4,198.7 L337.4,197.7 L337.4,199.7 L337.4,198.7 L337.4,200.4 L337.4,199.4 L337.4,200.9 L337.4,200.0 L337.4,201.8 L337.4,200.6 L337.4,203.0 L337.4,201.6 L337.4,203.4 L337.5,202.6 L337.5,204.4 L337.5,203.2 L337.5,205.1 L337.5,203.9 L337.5,206.0 L337.5,204.7 L337.5,206.6 L337.5,205.8 L337.5,207.5 L337.5,206.4 L337.5,208.2 L337.5,207.1 L337.5,209.0 L337.5,208.1 L337.5,210.0 L337.5,208.7 L337.5,210.9 L337.6,209.7 L337.6,211.5 L337.6,210.2 L337.6,212.6 L337.6,211.2 L337.6,213.0 L337.6,212.0 L337.6,214.0 L337.6,212.9 L337.6,213.7 L337.6,214.6 L337.6,212.2 L337.6,213.4 L337.6,211.6 L337.6,212.8 L337.6,210.9 L337.6,211.7 L337.6,209.9 L337.6,211.3 L337.6,209.2 L337.7,210.1 L337.7,208.4 L337.7,209.3 L337.7,207.3 L337.7,208.5 L337.7,206.9 L337.7,208.1 L337.7,206.2 L337.7,206.9 L337.7,205.4 L337.7,206.1 L337.7,204.3 L337.7,205.7 L337.7,203.7 L337.7,204.5 L337.7,202.6 L337.7,203.8 L337.7,202.0 L337.7,202.9 L337.7,201.3 L337.8,202.5 L337.8,200.5 L337.8,201.3 L337.8,199.4 L337.8,200.9 L337.8,198.5 L337.8,199.8 L337.8,197.7 L337.8,199.1 L337.8,197.2 L337.8,198.2 L337.8,196.2 L337.8,197.6 L337.8,195.7 L337.8,196.5 L337.8,194.4 L337.8,195.6 L337.8,193.7 L337.8,194.9 L337.8,193.2 L337.8,194.1 L337.9,192.3 L337.9,193.7 L337.9,191.6 L337.9,192.8 L337.9,190.7 L337.9,191.6 L337.9,189.7 L337.9,190.9 L337.9,189.2 L337.9,190.1 L337.9,189.2 L337.9,188.4 L337.9,190.6 L337.9,189.7 L337.9,191.5 L337.9,190.2 L337.9,192.4 L337.9,190.8 L337.9,192.9 L337.9,191.6 L338.0,193.9 L338.0,192.7 L338.0,194.5 L338.0,193.5 L338.0,195.3 L338.0,194.3 L338.0,196.0 L338.0,195.2 L338.0,197.2 L338.0,195.9 L338.0,197.8 L338.0,196.4 L338.0,198.7 L338.0,197.6 L338.0,199.6 L338.0,198.1 L338.0,200.4 L338.0,198.9 L338.0,201.1 L338.1,199.7 L338.1,201.6 L338.1,200.5 L338.1,202.5 L338.1,201.3 L338.1,203.2 L338.1,202.2 L338.1,204.1 L338.1,202.9 L338.1,204.9 L338.1,203.6 L338.1,206.0 L338.1,204.4 L338.1,206.4 L338.1,205.2 L338.1,207.5 L338.1,206.1 L338.1,208.3 L338.2,207.3 L338.2,209.2 L338.2,207.8 L338.2,209.8 L338.2,208.7 L338.2,210.7 L338.2,209.3 L338.2,211.6 L338.2,210.4 L338.2,212.1 L338.2,211.2 L338.2,212.8 L338.2,211.9 L338.2,213.5 L338.2,212.5 L338.2,214.4 L338.2,213.6 L338.2,215.2 L338.2,214.1 L338.3,216.0 L338.3,215.0 L338.3,216.9 L338.3,215.7 L338.3,218.0 L338.3,216.7 L338.3,218.6 L338.3,217.2 L338.3,219.4 L338.3,219.2 L338.3,217.7 L338.3,218.9 L338.3,216.8 L338.3,218.2 L338.3,216.4 L338.3,217.4 L338.3,215.3 L338.3,216.6 L338.4,214.6 L338.4,215.7 L338.4,213.6 L338.4,215.1 L338.4,213.2 L338.4,214.1 L338.4,212.3 L338.4,213.6 L338.4,211.3 L338.4,212.4 L338.4,210.4 L338.4,211.5 L338.4,209.8 L338.4,210.9 L338.4,208.9 L338.4,210.1 L338.4,208.4 L338.4,209.4 L338.5,207.3 L338.5,208.7 L338.5,206.7 L338.5,207.6 L338.5,205.7 L338.5,207.1 L338.5,205.2 L338.5,206.4 L338.5,204.0 L338.5,205.3 L338.5,203.5 L338.5,204.7 L338.5,202.4 L338.5,203.6 L338.5,201.9 L338.5,202.9 L338.5,200.9 L338.6,202.0 L338.6,200.2 L338.6,201.4 L338.6,199.3 L338.6,200.4 L338.6,198.4 L338.6,200.0 L338.6,197.8 L338.6,199.1 L338.6,197.2 L338.6,198.4 L338.6,196.2 L338.6,197.5 L338.6,195.2 L338.6,196.5 L338.6,194.4 L338.6,195.6 L338.6,194.1 L338.7,195.0 L338.7,192.8 L338.7,194.4 L338.7,192.0 L338.7,193.4 L338.7,191.2 L338.7,192.6 L338.7,190.8 L338.7,191.1 L338.7,192.3 L338.7,191.1 L338.7,193.0 L338.7,192.0 L338.7,193.7 L338.7,192.7 L338.7,194.6 L338.7,193.5 L338.8,195.2 L338.8,194.5 L338.8,196.1 L338.8,194.9 L338.8,197.1 L338.8,196.0 L338.8,197.7 L338.8,196.7 L338.8,198.5 L338.8,197.4 L338.8,199.6 L338.8,198.4 L338.8,200.3 L338.8,199.0 L338.8,201.2 L338.8,199.8 L338.8,202.0 L338.8,200.8 L338.9,202.8 L338.9,201.3 L338.9,203.2 L338.9,202.1 L338.9,204.2 L338.9,203.3 L338.9,204.8 L338.9,203.8 L338.9,206.0 L338.9,204.9 L338.9,206.7 L338.9,205.5 L338.9,207.7 L338.9,206.4 L338.9,208.4 L338.9,207.3 L338.9,208.9 L338.9,208.1 L338.9,209.9 L339.0,208.7 L339.0,210.6 L339.0,209.7 L339.0,211.4 L339.0,210.6 L339.0,212.2 L339.0,211.3 L339.0,213.1 L339.0,212.1 L339.0,213.9 L339.0,212.8 L339.0,215.0 L339.0,213.6 L339.0,215.8 L339.0,214.4 L339.0,216.2 L339.0,215.2 L339.1,217.0 L339.1,216.2 L339.1,217.7 L339.1,216.7 L339.1,219.0 L339.1,217.7 L339.1,219.5 L339.1,218.5 L339.1,220.3 L339.1,220.1 L339.1,218.9 L339.1,219.8 L339.1,217.8 L339.1,219.2 L339.1,217.5 L339.1,218.5 L339.1,216.3 L339.1,217.5 L339.2,215.5 L339.2,217.0 L339.2,214.8 L339.2,215.9 L339.2,214.1 L339.2,215.2 L339.2,213.1 L339.2,214.4 L339.2,212.1 L339.2,213.3 L339.2,211.6 L339.2,212.9 L339.2,210.6 L339.2,212.0 L339.2,209.9 L339.2,211.0 L339.2,208.9 L339.3,210.3 L339.3,208.4 L339.3,209.3 L339.3,207.7 L339.3,208.9 L339.3,206.6 L339.3,207.6 L339.3,206.0 L339.3,207.1 L339.3,205.1 L339.3,206.2 L339.3,204.1 L339.3,205.4 L339.3,203.5 L339.3,204.9 L339.3,202.6 L339.4,203.8 L339.4,202.0 L339.4,203.0 L339.4,201.0 L339.4,202.4 L339.4,200.4 L339.4,201.4 L339.4,199.5 L339.4,200.6 L339.4,198.5 L339.4,199.8 L339.4,198.0 L339.4,198.9 L339.4,196.9 L339.4,198.0 L339.4,196.2 L339.4,197.2 L339.5,195.6 L339.5,196.4 L339.5,194.5 L339.5,195.6 L339.5,194.0 L339.5,194.8 L339.5,193.2 L339.5,194.3 L339.5,193.1 L339.5,192.4 L339.5,194.8 L339.5,193.4 L339.5,195.6 L339.5,194.5 L339.5,196.4 L339.5,195.1 L339.5,196.8 L339.6,195.7 L339.6,198.0 L339.6,196.7 L339.6,198.4 L339.6,197.3 L339.6,199.5 L339.6,198.2 L339.6,200.5 L339.6,199.3 L339.6,200.8 L339.6,200.1 L339.6,201.6 L339.6,200.6 L339.6,202.7 L339.6,201.7 L339.6,203.3 L339.6,202.5 L339.6,204.3 L339.6,203.0 L339.7,205.3 L339.7,204.0 L339.7,206.1 L339.7,204.7 L339.7,206.6 L339.7,205.6 L339.7,207.3 L339.7,206.1 L339.7,208.5 L339.7,207.0 L339.7,208.9 L339.7,208.1 L339.7,209.7 L339.7,208.8 L339.7,210.8 L339.7,209.8 L339.7,211.5 L339.8,210.3 L339.8,212.1 L339.8,211.2 L339.8,213.3 L339.8,211.9 L339.8,213.9 L339.8,212.6 L339.8,214.8 L339.8,213.7 L339.8,215.5 L339.8,214.1 L339.8,216.5 L339.8,215.0 L339.8,217.2 L339.8,216.2 L339.8,217.8 L339.8,216.9 L339.8,218.8 L339.8,217.9 L339.9,219.7 L339.9,218.3 L339.9,220.4 L339.9,219.5 L339.9,221.3 L339.9,220.1 L339.9,222.1 L339.9,220.8 L339.9,222.1 L339.9,222.3 L339.9,220.2 L339.9,221.8 L339.9,219.4 L339.9,220.8 L339.9,218.9 L339.9,219.9 L339.9,218.1 L339.9,219.4 L339.9,217.1 L339.9,218.5 L340.0,216.2 L340.0,217.8 L340.0,215.5 L340.0,216.7 L340.0,214.7 L340.0,215.8 L340.0,213.9 L340.0,215.0 L340.0,213.0 L340.0,214.3 L340.0,212.5 L340.0,213.8 L340.0,211.8 L340.0,213.0 L340.0,210.7 L340.0,211.8 L340.0,209.9 L340.0,211.2 L340.0,209.0 L340.0,210.4 L340.0,208.4 L340.0,209.7 L340.0,207.8 L340.0,208.9 L340.1,207.0 L340.1,207.8 L340.1,206.2 L340.1,207.3 L340.1,205.2 L340.1,206.4 L340.1,204.5 L340.1,205.6 L340.1,203.5 L340.1,204.5 L340.1,202.8 L340.1,204.0 L340.1,202.1 L340.1,203.2 L340.1,201.3 L340.1,202.2 L340.1,200.1 L340.1,201.7 L340.1,199.3 L340.1,200.7 L340.1,198.7 L340.1,200.0 L340.1,197.8 L340.1,199.1 L340.2,197.0 L340.2,198.2 L340.2,196.1 L340.2,197.5 L340.2,195.7 L340.2,196.8 L340.2,194.9 L340.2,196.0 L340.2,194.2 L340.2,195.3 L340.2,193.1 L340.2,193.6 L340.2,194.5 L340.2,193.5 L340.2,195.4 L340.2,194.5 L340.2,196.5 L340.2,195.4 L340.2,197.1 L340.2,196.2 L340.2,198.1 L340.2,196.6 L340.2,198.5 L340.2,197.6 L340.2,199.5 L340.2,198.3 L340.2,200.5 L340.2,199.3 L340.2,201.4 L340.3,200.2 L340.3,201.8 L340.3,200.7 L340.3,202.6 L340.3,201.8 L340.3,203.6 L340.3,202.6 L340.3,204.2 L340.3,203.1 L340.3,205.2 L340.3,203.9 L340.3,205.9 L340.3,204.7 L340.3,206.7 L340.3,205.5 L340.3,207.7 L340.3,206.3 L340.3,208.6 L340.3,207.3 L340.3,209.3 L340.3,208.0 L340.3,210.1 L340.3,209.2 L340.3,211.1 L340.3,209.6 L340.3,211.8 L340.3,210.5 L340.3,212.4 L340.3,211.4 L340.3,213.5 L340.3,212.0 L340.3,214.4 L340.3,213.2 L340.3,215.0 L340.3,213.8 L340.4,214.9 L340.4,215.2 L340.4,213.6 L340.4,214.5 L340.4,212.6 L340.4,213.6 L340.4,211.9 L340.4,212.9 L340.4,210.9 L340.4,212.2 L340.4,210.4 L340.4,211.5 L340.4,209.4 L340.4,210.7 L340.4,208.3 L340.4,209.5 L340.4,207.7 L340.4,209.1 L340.4,207.0 L340.4,208.1 L340.4,206.2 L340.4,207.0 L340.4,205.5 L340.4,206.2 L340.4,204.6 L340.4,205.7 L340.4,203.7 L340.4,205.0 L340.4,202.8 L340.4,203.9 L340.4,201.9 L340.4,203.3 L340.4,201.2 L340.4,202.6 L340.4,200.4 L340.4,201.5 L340.4,199.6 L340.4,199.9 L340.4,201.4 L340.4,200.2 L340.4,202.2 L340.4,201.1 L340.4,202.5 L340.4,201.6 L340.4,203.4 L340.4,202.4 L340.4,204.2 L340.4,203.1 L340.4,205.3 L340.4,203.9 L340.4,206.2 L340.5,204.6 L340.5,206.9 L340.5,205.5 L340.5,207.3 L340.5,206.7 L340.5,208.3 L340.5,207.0 L340.5,209.1 L340.5,208.0 L340.5,209.7 L340.5,208.9 L340.5,211.0 L340.5,209.6 L340.5,211.7 L340.5,210.7 L340.5,212.2 L340.5,211.4 L340.5,213.3 L340.5,212.2 L340.5,214.2 L340.5,213.0 L340.5,215.0 L340.5,213.6 L340.5,215.5 L340.5,214.2 L340.5,216.3 L340.5,215.1 L340.5,216.9 L340.6,215.9 L340.6,218.2 L340.6,217.0 L340.6,218.9 L340.6,217.8 L340.6,219.4 L340.6,218.5 L340.6,220.5 L340.6,219.0 L340.6,221.4 L340.6,219.8 L340.6,222.0 L340.6,220.8 L340.6,221.8 L340.7,223.5 L340.7,221.8 L340.8,224.1 L340.8,222.4 L340.9,224.8 L341.0,223.7 L341.0,225.5 L341.1,224.5 L341.1,226.6 L341.2,226.2 L341.4,225.3 L341.6,228.2 L341.9,225.7 L342.1,229.1 L342.3,227.9 L342.3,227.6 L342.3,229.4 L342.4,228.6 L342.4,230.4 L342.4,229.3 L342.4,231.4 L342.4,230.1 L342.5,232.2 L342.5,230.9 L342.5,232.6 L342.5,231.6 L342.5,233.6 L342.6,232.5 L342.6,234.6 L342.6,233.3 L342.6,235.3 L342.6,233.8 L342.7,236.0 L342.7,234.8 L342.7,237.1 L342.7,235.5 L342.7,237.4 L342.8,236.6 L342.8,238.2 L342.8,237.3 L342.8,239.0 L342.8,237.9 L342.9,240.0 L342.9,238.9 L342.9,240.8 L342.9,239.3 L342.9,241.5 L343.0,240.6 L343.0,242.3 L343.0,241.3 L343.0,243.5 L343.0,241.9 L343.1,244.0 L343.1,243.0 L343.1,244.6 L343.1,243.8 L343.1,245.8 L343.2,244.3 L343.2,246.2 L343.2,245.1 L343.2,247.0 L343.2,246.0 L343.3,247.9 L343.3,247.0 L343.3,249.0 L343.3,247.5 L343.3,249.6 L343.4,248.6 L343.4,250.5 L343.4,249.2 L343.4,251.3 L343.4,250.2 L343.5,252.2 L343.5,251.0 L343.5,251.8 L343.5,252.4 L343.5,250.5 L343.6,251.4 L343.6,249.5 L343.6,251.1 L343.6,248.9 L343.7,249.9 L343.7,247.9 L343.7,249.1 L343.7,247.2 L343.7,248.5 L343.8,246.4 L343.8,247.4 L343.8,245.8 L343.8,246.9 L343.9,244.5 L343.9,246.3 L343.9,244.2 L343.9,245.2 L343.9,243.2 L344.0,244.3 L344.0,242.3 L344.0,243.6 L344.0,241.4 L344.1,242.7 L344.1,240.5 L344.1,242.2 L344.1,240.0 L344.1,241.0 L344.2,239.2 L344.2,240.2 L344.2,238.3 L344.2,239.7 L344.2,237.5 L344.3,239.1 L344.3,237.0 L344.3,238.2 L344.3,235.8 L344.4,237.0 L344.4,235.3 L344.4,236.2 L344.4,234.3 L344.4,235.8 L344.5,233.7 L344.5,234.9 L344.5,232.8 L344.5,234.1 L344.6,232.1 L344.6,233.5 L344.6,232.0 L344.7,230.9 L344.8,231.8 L344.8,229.5 L344.9,231.5 L345.0,228.7 L345.1,230.1 L345.1,227.7 L345.2,228.7 L345.2,229.6 L345.3,228.5 L345.3,230.7 L345.3,229.6 L345.4,231.2 L345.4,230.2 L345.4,232.5 L345.5,230.6 L345.5,233.0 L345.5,231.5 L345.6,234.1 L345.6,232.4 L345.7,234.8 L345.7,233.1 L345.7,235.7 L345.8,234.0 L345.8,236.4 L345.8,235.2 L345.9,237.2 L345.9,235.9 L345.9,238.0 L346.0,236.8 L346.0,238.0 L346.0,238.5 L346.1,236.5 L346.1,237.5 L346.1,235.5 L346.2,236.9 L346.2,234.8 L346.2,236.1 L346.3,234.1 L346.3,235.3 L346.3,233.2 L346.4,234.6 L346.4,232.2 L346.4,233.8 L346.5,231.5 L346.5,232.7 L346.5,230.4 L346.5,232.0 L346.6,229.9 L346.6,231.1 L346.6,229.1 L346.7,230.5 L346.7,228.1 L346.7,229.6 L346.8,227.3 L346.8,228.6 L346.8,226.7 L346.9,227.9 L346.9,226.0 L346.9,227.1 L347.0,224.9 L347.0,225.7 L347.0,226.6 L347.1,225.6 L347.1,227.8 L347.1,226.2 L347.2,228.6 L347.2,227.1 L347.2,229.4 L347.3,228.1 L347.3,229.9 L347.3,228.9 L347.4,230.7 L347.4,229.4 L347.4,231.8 L347.5,230.4 L347.5,232.9 L347.5,231.1 L347.6,233.3 L347.6,232.9 L347.6,232.0 L347.6,233.2 L347.7,230.8 L347.7,232.2 L347.7,230.2 L347.7,231.2 L347.7,229.3 L347.7,230.7 L347.8,228.3 L347.8,229.9 L347.8,227.5 L347.8,228.9 L347.8,226.9 L347.9,228.0 L347.9,225.8 L347.9,227.1 L347.9,225.4 L347.9,226.4 L348.0,224.2 L348.0,225.9 L348.0,223.7 L348.0,225.0 L348.0,222.6 L348.0,224.0 L348.1,222.2 L348.1,223.4 L348.1,221.2 L348.1,222.2 L348.1,220.1 L348.2,221.5 L348.2,219.6 L348.2,220.8 L348.2,218.9 L348.2,219.7 L348.2,218.0 L348.3,219.1 L348.3,217.4 L348.3,217.4 L348.3,218.9 L348.3,217.6 L348.3,219.6 L348.4,218.3 L348.4,220.2 L348.4,219.4 L348.4,221.3 L348.4,219.9 L348.4,221.9 L348.5,220.9 L348.5,223.0 L348.5,221.4 L348.5,223.5 L348.5,222.4 L348.5,224.5 L348.5,223.3 L348.6,225.0 L348.6,224.2 L348.6,226.2 L348.6,224.8 L348.6,226.9 L348.6,225.9 L348.6,227.6 L348.7,226.6 L348.7,228.5 L348.7,227.4 L348.7,229.6 L348.7,228.4 L348.7,230.4 L348.8,229.1 L348.8,231.2 L348.8,229.9 L348.8,231.1 L348.8,231.3 L348.8,229.6 L348.8,230.7 L348.8,228.4 L348.9,229.6 L348.9,227.6 L348.9,229.0 L348.9,226.7 L348.9,227.9 L348.9,226.2 L348.9,227.2 L348.9,225.3 L349.0,226.7 L349.0,224.4 L349.0,225.8 L349.0,223.8 L349.0,225.1 L349.0,223.1 L349.0,224.0 L349.0,222.0 L349.1,223.3 L349.1,221.0 L349.1,222.3 L349.1,220.5 L349.1,221.5 L349.1,219.9 L349.1,220.7 L349.1,219.1 L349.1,220.0 L349.2,218.1 L349.2,219.3 L349.2,217.4 L349.2,218.5 L349.2,216.4 L349.2,217.9 L349.2,215.8 L349.2,216.8 L349.3,214.8 L349.3,215.9 L349.3,213.8 L349.3,215.0 L349.3,214.2 L349.4,212.7 L349.4,214.0 L349.5,211.7 L349.6,213.4 L349.6,211.1 L349.7,212.2 L349.8,209.8 L349.8,211.6 L349.9,210.0 L349.9,209.9 L349.9,211.9 L349.9,210.8 L349.9,212.6 L349.9,211.4 L349.9,213.4 L349.9,212.4 L349.9,214.6 L349.9,213.3 L349.9,215.1 L349.9,214.2 L350.0,216.0 L350.0,214.7 L350.0,216.7 L350.0,215.7 L350.0,217.4 L350.0,216.3 L350.0,218.4 L350.0,217.1 L350.0,219.1 L350.0,217.9 L350.0,219.8 L350.0,219.0 L350.0,221.1 L350.0,219.6 L350.0,221.7 L350.0,220.5 L350.0,222.4 L350.0,221.5 L350.0,223.1 L350.0,222.1 L350.0,224.2 L350.0,223.1 L350.0,225.0 L350.1,223.9 L350.1,225.8 L350.1,224.7 L350.1,226.5 L350.1,225.5 L350.1,227.4 L350.1,226.4 L350.1,228.1 L350.1,227.0 L350.1,228.8 L350.1,227.9 L350.1,229.1 L350.1,229.4 L350.1,227.3 L350.1,228.7 L350.1,226.6 L350.1,227.6 L350.1,225.8 L350.2,227.1 L350.2,224.9 L350.2,226.3 L350.2,224.2 L350.2,225.3 L350.2,223.1 L350.2,224.7 L350.2,222.5 L350.2,223.5 L350.2,221.7 L350.2,222.6 L350.2,220.7 L350.3,222.3 L350.3,220.0 L350.3,221.1 L350.3,219.1 L350.3,220.3 L350.3,218.3 L350.3,219.7 L350.3,217.9 L350.3,219.0 L350.3,216.9 L350.3,218.2 L350.3,216.0 L350.4,217.2 L350.4,215.1 L350.4,216.2 L350.4,214.2 L350.4,215.5 L350.4,213.9 L350.4,213.9 L350.4,215.0 L350.4,214.2 L350.4,216.1 L350.5,215.0 L350.5,216.6 L350.5,215.7 L350.5,217.5 L350.5,216.2 L350.5,218.6 L350.5,217.0 L350.5,219.5 L350.6,218.0 L350.6,220.2 L350.6,218.9 L350.6,221.0 L350.6,219.4 L350.6,221.7 L350.6,220.5 L350.7,222.2 L350.7,221.0 L350.7,223.2 L350.7,221.9 L350.7,224.2 L350.7,223.0 L350.7,224.9 L350.7,223.6 L350.8,225.8 L350.8,224.4 L350.8,226.2 L350.8,226.3 L350.9,225.5 L351.0,228.1 L351.1,225.9 L351.2,228.6 L351.3,226.8 L351.5,229.5 L351.6,228.0 L351.7,230.2 L351.8,228.2 L351.9,231.1 L352.0,230.5 L352.0,230.1 L352.1,231.9 L352.1,230.7 L352.1,233.1 L352.1,231.5 L352.2,233.7 L352.2,232.6 L352.2,234.5 L352.2,233.1 L352.3,235.5 L352.3,234.1 L352.3,236.2 L352.3,235.1 L352.4,237.2 L352.4,235.7 L352.4,237.8 L352.4,236.3 L352.5,238.4 L352.5,237.2 L352.5,239.3 L352.5,237.9 L352.6,240.0 L352.6,239.0 L352.6,241.1 L352.6,239.7 L352.7,241.7 L352.7,240.5 L352.7,242.4 L352.7,241.3 L352.8,243.1 L352.8,241.9 L352.8,244.1 L352.8,242.7 L352.9,245.0 L352.9,243.7 L352.9,245.9 L352.9,244.7 L353.0,246.8 L353.0,246.0 L353.2,244.8 L353.4,248.5 L353.5,245.7 L353.7,249.3 L353.9,246.7 L354.1,249.9 L354.3,246.9 L354.5,250.2 L354.6,248.4 L354.8,251.1 L355.0,250.2 L355.1,249.7 L355.2,251.9 L355.3,250.0 L355.4,252.8 L355.5,251.3 L355.6,253.4 L355.7,251.8 L355.8,254.2 L355.9,252.6 L356.1,255.3 L356.2,253.4 L356.3,256.0 L356.4,253.9 L356.5,256.5 L356.6,254.7 L356.7,257.4 L356.8,256.1 L356.9,258.6 L357.0,257.7 L357.0,257.2 L357.1,259.2 L357.1,257.8 L357.2,260.1 L357.2,258.7 L357.3,260.8 L357.3,259.6 L357.4,261.9 L357.4,260.5 L357.4,262.6 L357.5,261.5 L357.5,263.5 L357.6,261.9 L357.6,264.0 L357.7,262.8 L357.7,265.2 L357.8,263.9 L357.8,266.1 L357.8,264.2 L357.9,266.4 L357.9,265.4 L358.0,267.2 L358.0,266.2 L358.1,268.0 L358.1,266.9 L358.1,269.0 L358.2,267.8 L358.2,269.9 L358.3,268.6 L358.3,270.9 L358.4,269.2 L358.4,271.3 L358.5,270.3 L358.5,271.1 L358.5,271.8 L358.6,270.0 L358.6,271.3 L358.7,268.7 L358.7,270.6 L358.8,268.3 L358.8,269.2 L358.9,267.1 L358.9,268.6 L359.0,266.2 L359.0,267.8 L359.0,265.8 L359.1,266.8 L359.1,264.6 L359.2,266.3 L359.2,264.1 L359.3,265.4 L359.3,263.1 L359.4,264.8 L359.4,262.4 L359.5,263.6 L359.5,261.7 L359.5,263.3 L359.6,260.9 L359.6,262.3 L359.7,260.0 L359.7,261.4 L359.8,259.1 L359.8,260.4 L359.9,258.3 L359.9,260.0 L360.0,257.8 L360.0,258.9 L360.0,256.5 L360.1,258.5 L360.1,256.2 L360.2,257.4 L360.2,255.0 L360.3,256.8 L360.3,254.3 L360.4,255.5 L360.4,253.6 L360.5,255.1 L360.5,253.8 L360.7,252.9 L360.9,255.9 L361.0,253.2 L361.2,256.6 L361.4,254.5 L361.6,257.1 L361.8,255.0 L362.0,258.0 L362.1,255.7 L362.3,258.3 L362.5,257.9 L362.5,257.3 L362.6,259.5 L362.6,258.1 L362.6,260.2 L362.6,258.7 L362.7,260.7 L362.7,259.5 L362.7,261.5 L362.8,260.2 L362.8,262.3 L362.8,261.1 L362.8,263.3 L362.9,262.2 L362.9,264.1 L362.9,262.9 L362.9,264.9 L363.0,263.9 L363.0,265.8 L363.0,264.6 L363.1,266.9 L363.1,265.4 L363.1,267.4 L363.1,266.2 L363.2,268.5 L363.2,267.0 L363.2,269.1 L363.2,267.5 L363.3,269.7 L363.3,268.4 L363.3,270.5 L363.4,269.5 L363.4,271.2 L363.4,270.2 L363.4,272.4 L363.5,271.1 L363.5,273.0 L363.5,271.6 L363.6,273.7 L363.6,272.7 L363.6,274.7 L363.6,273.4 L363.7,275.7 L363.7,273.9 L363.7,276.1 L363.8,274.9 L363.8,277.0 L363.8,276.0 L363.8,277.8 L363.9,276.3 L363.9,278.6 L363.9,277.3 L363.9,279.6 L364.0,278.4 L364.0,279.7 L364.0,279.7 L364.1,277.9 L364.1,279.2 L364.1,277.2 L364.2,278.2 L364.2,276.4 L364.2,277.5 L364.3,275.6 L364.3,276.5 L364.4,274.7 L364.4,275.7 L364.4,274.0 L364.5,274.9 L364.5,272.9 L364.5,274.1 L364.6,272.0 L364.6,273.5 L364.6,271.5 L364.7,272.6 L364.7,270.3 L364.8,271.6 L364.8,269.6 L364.8,270.9 L364.9,268.7 L364.9,270.3 L364.9,268.1 L365.0,269.7 L365.0,267.6 L365.0,268.4 L365.1,266.4 L365.1,268.0 L365.1,265.6 L365.2,267.0 L365.2,264.9 L365.2,266.1 L365.3,264.2 L365.3,265.4 L365.4,263.3 L365.4,264.6 L365.4,262.7 L365.5,264.0 L365.5,262.0 L365.5,263.3 L365.6,260.9 L365.6,262.1 L365.6,260.4 L365.7,261.5 L365.7,259.3 L365.8,260.8 L365.8,258.6 L365.8,259.8 L365.9,257.5 L365.9,259.0 L365.9,256.7 L366.0,258.5 L366.0,255.8 L366.0,257.8 L366.1,255.5 L366.1,256.9 L366.1,254.5 L366.2,255.7 L366.2,253.4 L366.2,255.2 L366.3,252.8 L366.3,254.3 L366.4,252.4 L366.4,253.7 L366.4,251.5 L366.5,252.5 L366.5,251.5 L366.5,251.1 L366.6,253.1 L366.6,251.6 L366.7,253.7 L366.7,252.4 L366.8,254.5 L366.8,253.3 L366.9,255.6 L366.9,254.0 L367.0,256.1 L367.0,255.1 L367.1,257.5 L367.1,255.8 L367.2,257.9 L367.2,256.6 L367.3,258.9 L367.3,257.2 L367.4,259.7 L367.4,258.2 L367.5,260.4 L367.5,258.9 L367.6,261.0 L367.6,259.5 L367.7,262.3 L367.7,260.4 L367.8,263.1 L367.8,261.4 L367.9,263.8 L367.9,262.3 L368.0,264.6 L368.0,262.8 L368.1,265.5 L368.1,263.6 L368.2,266.3 L368.2,264.7 L368.3,267.0 L368.3,265.4 L368.4,267.5 L368.4,266.3 L368.5,268.6 L368.5,268.2 L368.6,266.2 L368.7,268.3 L368.8,265.9 L368.8,267.1 L368.9,264.8 L369.0,266.3 L369.1,264.2 L369.2,265.5 L369.3,263.5 L369.4,265.1 L369.5,262.6 L369.5,264.4 L369.6,261.7 L369.7,263.6 L369.8,260.9 L369.9,262.3 L370.0,260.1 L370.1,261.3 L370.2,259.2 L370.2,260.8 L370.3,258.7 L370.4,260.3 L370.5,258.5 L370.6,258.3 L370.7,260.8 L370.8,258.9 L370.9,261.1 L371.0,259.9 L371.1,261.8 L371.2,260.2 L371.3,263.0 L371.4,261.1 L371.5,263.5 L371.6,262.1 L371.7,264.9 L371.8,262.9 L371.9,265.7 L372.0,263.3 L372.1,265.9 L372.2,264.1 L372.3,266.6 L372.4,265.0 L372.5,266.9 L372.8,269.0 L373.1,265.5 L373.4,269.7 L373.8,266.6 L374.1,270.0 L374.4,267.1 L374.7,270.5 L375.0,268.7 L375.1,268.3 L375.2,271.2 L375.3,269.0 L375.5,272.0 L375.6,269.9 L375.7,273.0 L375.8,270.6 L375.9,273.5 L376.0,271.7 L376.2,274.6 L376.3,272.5 L376.4,274.8 L376.5,274.2 L376.6,273.8 L376.7,276.2 L376.8,274.6 L376.8,276.8 L376.9,275.2 L377.0,277.7 L377.1,276.3 L377.2,278.3 L377.3,276.9 L377.4,279.0 L377.5,278.0 L377.5,279.9 L377.6,278.4 L377.7,280.5 L377.8,279.2 L377.9,281.7 L378.0,280.3 L378.1,282.0 L378.2,280.9 L378.2,282.9 L378.3,281.4 L378.4,284.1 L378.5,283.3 L378.6,282.7 L378.7,285.0 L378.8,283.8 L378.8,286.0 L378.9,284.6 L379.0,286.3 L379.1,285.2 L379.2,287.0 L379.3,286.0 L379.4,288.0 L379.5,286.5 L379.5,288.8 L379.6,287.4 L379.7,289.8 L379.8,288.3 L379.9,290.3 L380.0,289.2 L380.1,291.2 L380.2,290.0 L380.2,292.1 L380.3,290.7 L380.4,292.7 L380.5,292.4 L380.8,290.9 L381.1,294.1 L381.3,292.2 L381.6,294.6 L381.9,293.0 L382.2,295.3 L382.4,293.4 L382.7,296.6 L383.0,295.5 L383.1,294.7 L383.1,297.1 L383.2,295.7 L383.3,297.8 L383.3,296.8 L383.4,298.5 L383.5,297.5 L383.5,299.5 L383.6,298.5 L383.7,300.2 L383.8,299.1 L383.8,301.0 L383.9,299.9 L384.0,301.6 L384.0,300.6 L384.1,302.8 L384.2,301.4 L384.2,303.3 L384.3,302.3 L384.4,304.5 L384.4,302.9 L384.5,304.5 L384.9,305.6 L385.3,302.4 L385.8,306.5 L386.2,303.2 L386.6,306.9 L387.0,305.3 L387.1,304.3 L387.1,306.3 L387.2,305.3 L387.2,307.2 L387.3,306.3 L387.3,308.2 L387.4,306.9 L387.4,308.8 L387.5,307.8 L387.6,310.0 L387.6,308.6 L387.7,310.8 L387.7,309.5 L387.8,311.7 L387.8,310.6 L387.9,312.2 L387.9,311.1 L388.0,312.5 L388.4,314.6 L388.8,310.7 L389.2,314.3 L389.7,310.8 L390.1,314.5 L390.5,313.1 L390.6,312.2 L390.7,314.2 L390.7,313.3 L390.8,315.4 L390.9,314.2 L391.0,316.2 L391.1,315.0 L391.1,316.9 L391.2,315.4 L391.3,317.5 L391.4,316.4 L391.4,318.2 L391.5,317.0 L391.6,319.2 L391.7,317.9 L391.8,319.9 L391.8,318.7 L391.9,321.0 L392.0,320.5 L392.1,319.6 L392.2,321.9 L392.3,320.6 L392.4,322.7 L392.5,321.5 L392.6,323.8 L392.7,322.4 L392.8,324.4 L392.9,322.9 L393.0,325.5 L393.1,324.1 L393.2,325.9 L393.3,324.7 L393.4,327.1 L393.5,326.1 L393.6,325.7 L393.7,327.9 L393.8,326.7 L393.9,329.1 L393.9,327.8 L394.0,329.5 L394.1,328.6 L394.2,330.3 L394.3,329.3 L394.4,331.4 L394.5,330.0 L394.6,331.9 L394.6,330.7 L394.7,332.9 L394.8,331.9 L394.9,333.9 L395.0,333.5 L395.1,333.0 L395.2,335.3 L395.4,333.4 L395.5,335.6 L395.6,334.6 L395.7,336.8 L395.8,334.9 L395.9,337.1 L396.1,335.7 L396.2,338.3 L396.3,336.5 L396.4,339.1 L396.5,337.1 L396.6,339.5 L396.8,337.9 L396.9,340.6 L397.0,339.7 L397.0,339.4 L397.1,341.5 L397.1,340.2 L397.2,342.2 L397.2,341.3 L397.2,342.9 L397.3,342.0 L397.3,343.7 L397.4,342.7 L397.4,344.9 L397.5,343.8 L397.5,345.7 L397.5,344.5 L397.6,346.2 L397.6,345.3 L397.7,347.4 L397.7,346.8 L397.7,346.0 L397.8,346.8 L397.8,344.9 L397.9,346.1 L397.9,344.0 L398.0,345.1 L398.0,343.6 L398.1,344.4 L398.1,342.4 L398.2,343.5 L398.2,342.0 L398.3,343.0 L398.3,341.2 L398.3,342.1 L398.4,340.4 L398.4,341.1 L398.5,339.3 L398.5,340.6 L398.6,338.6 L398.6,339.6 L398.7,338.0 L398.7,338.8 L398.8,337.1 L398.8,338.2 L398.9,336.1 L398.9,337.4 L398.9,335.4 L399.0,336.6 L399.0,334.8 L399.1,335.6 L399.1,333.9 L399.2,334.8 L399.2,332.9 L399.3,333.9 L399.3,332.3 L399.4,333.2 L399.4,331.2 L399.5,332.5 L399.5,331.3 L399.6,330.2 L399.6,331.5 L399.7,329.1 L399.7,330.4 L399.8,328.5 L399.8,329.8 L399.9,327.8 L399.9,328.7 L400.0,327.1 L400.1,328.0 L400.1,326.0 L400.2,327.0 L400.2,325.3 L400.3,326.6 L400.3,324.5 L400.4,325.5 L400.4,323.5 L400.5,324.9 L400.6,322.9 L400.6,323.7 L400.7,322.0 L400.7,323.2 L400.8,321.0 L400.8,322.4 L400.9,320.5 L400.9,321.5 L401.0,320.2 L401.1,319.0 L401.3,320.6 L401.4,317.9 L401.6,320.1 L401.8,317.2 L401.9,319.1 L402.1,316.4 L402.2,318.1 L402.4,315.7 L402.5,316.7 L402.6,318.1 L402.7,316.6 L402.8,318.9 L402.9,317.6 L402.9,319.6 L403.0,318.0 L403.1,320.2 L403.2,318.7 L403.3,320.9 L403.4,319.6 L403.5,321.8 L403.6,320.6 L403.6,322.4 L403.7,321.1 L403.8,323.5 L403.9,322.3 L404.0,323.7 L404.2,324.6 L404.4,323.0 L404.6,325.5 L404.8,323.5 L405.0,326.5 L405.2,323.9 L405.4,327.0 L405.6,325.1 L405.8,327.3 L406.0,326.4 L406.1,326.3 L406.2,328.6 L406.3,327.1 L406.4,329.6 L406.5,327.9 L406.6,330.0 L406.8,328.7 L406.9,330.7 L407.0,329.2 L407.1,331.7 L407.2,330.2 L407.3,332.4 L407.4,331.2 L407.5,332.2 L407.6,333.6 L407.7,332.3 L407.8,334.6 L407.8,333.1 L407.9,335.0 L408.0,334.1 L408.1,335.8 L408.2,334.8 L408.2,336.9 L408.3,335.3 L408.4,337.4 L408.5,336.1 L408.6,338.3 L408.7,337.1 L408.8,339.2 L408.8,338.2 L408.9,339.7 L409.0,338.6 L409.1,340.9 L409.2,339.6 L409.2,341.8 L409.3,340.1 L409.4,342.3 L409.5,341.6 L409.6,340.6 L409.7,342.1 L409.8,340.0 L409.9,341.0 L410.0,339.1 L410.1,340.1 L410.2,338.1 L410.3,339.7 L410.4,337.6 L410.6,338.8 L410.7,336.8 L410.8,337.8 L410.9,336.0 L411.0,337.4 L411.1,335.1 L411.2,336.5 L411.3,334.3 L411.4,335.8 L411.5,334.4 L411.9,332.4 L412.3,335.7 L412.8,332.3 L413.2,335.3 L413.6,331.7 L414.0,334.1 L414.1,335.0 L414.1,333.8 L414.2,335.6 L414.2,334.8 L414.3,336.5 L414.4,335.3 L414.4,337.2 L414.5,336.3 L414.5,338.4 L414.6,337.0 L414.7,339.2 L414.7,338.0 L414.8,339.7 L414.8,338.6 L414.9,340.6 L415.0,339.4 L415.0,341.4 L415.1,340.2 L415.1,342.3 L415.2,341.0 L415.3,343.3 L415.3,342.0 L415.4,344.1 L415.4,343.0 L415.5,344.2 L415.6,344.2 L415.8,342.2 L415.9,343.7 L416.0,341.3 L416.1,342.9 L416.2,340.9 L416.4,342.4 L416.5,339.9 L416.6,341.6 L416.8,339.2 L416.9,340.4 L417.0,338.2 L417.1,339.7 L417.2,337.7 L417.4,338.8 L417.5,337.6 L417.8,336.6 L418.1,340.1 L418.4,337.2 L418.8,340.4 L419.1,337.8 L419.4,341.3 L419.7,338.9 L420.0,340.4 L420.1,341.8 L420.3,340.0 L420.4,342.3 L420.6,341.1 L420.8,343.2 L420.9,342.0 L421.1,344.0 L421.2,342.4 L421.4,345.0 L421.5,344.1 L421.7,343.4 L421.9,345.9 L422.0,344.2 L422.2,346.7 L422.4,345.4 L422.6,347.5 L422.8,345.8 L423.0,348.2 L423.1,346.3 L423.3,349.5 L423.5,348.2 L423.6,347.0 L423.7,348.6 L423.8,346.3 L423.9,347.5 L424.0,345.3 L424.1,347.1 L424.2,345.0 L424.3,346.0 L424.4,344.0 L424.5,345.1 L424.6,343.1 L424.7,344.7 L424.8,342.5 L424.9,343.8 L425.0,342.2 L425.1,341.3 L425.2,342.6 L425.3,340.4 L425.4,341.4 L425.5,339.7 L425.6,340.7 L425.7,338.9 L425.8,339.8 L425.9,338.0 L426.0,339.3 L426.1,337.1 L426.2,338.3 L426.3,336.2 L426.4,337.8 L426.5,336.5 L426.5,335.3 L426.5,336.4 L426.6,334.3 L426.6,335.4 L426.6,333.6 L426.6,334.5 L426.7,333.0 L426.7,333.9 L426.7,331.9 L426.7,332.7 L426.8,331.0 L426.8,332.3 L426.8,330.6 L426.8,331.4 L426.8,329.6 L426.9,330.5 L426.9,328.6 L426.9,329.6 L426.9,327.9 L427.0,328.9 L427.0,327.2 L427.0,327.4 L427.1,327.7 L427.1,325.5 L427.2,326.7 L427.2,324.8 L427.3,325.9 L427.4,324.3 L427.4,325.1 L427.5,323.5 L427.6,324.5 L427.6,322.7 L427.7,323.8 L427.8,321.9 L427.8,323.0 L427.9,320.7 L427.9,321.9 L428.0,320.7 L428.1,320.4 L428.1,322.5 L428.2,321.1 L428.2,323.2 L428.3,322.2 L428.4,324.3 L428.4,323.0 L428.5,325.1 L428.5,323.5 L428.6,325.5 L428.7,324.5 L428.7,326.7 L428.8,325.5 L428.8,327.5 L428.9,326.0 L429.0,328.2 L429.0,326.9 L429.1,328.7 L429.1,327.5 L429.2,329.5 L429.3,328.4 L429.3,330.6 L429.4,329.5 L429.4,331.4 L429.5,330.9 L429.6,329.6 L429.6,330.6 L429.7,328.7 L429.7,330.0 L429.8,328.0 L429.8,329.2 L429.9,327.2 L430.0,328.3 L430.0,326.5 L430.1,327.4 L430.1,325.7 L430.2,326.6 L430.2,324.7 L430.3,326.1 L430.4,324.1 L430.4,325.4 L430.5,323.0 L430.5,324.6 L430.6,322.6 L430.7,323.6 L430.7,321.5 L430.8,322.8 L430.8,321.0 L430.9,322.1 L430.9,320.0 L431.0,320.4 L431.1,321.1 L431.3,318.7 L431.4,319.7 L431.6,317.4 L431.7,319.0 L431.9,317.1 L432.0,317.1 L432.4,319.2 L432.8,315.1 L433.1,318.0 L433.5,316.1 L433.7,315.5 L433.8,318.4 L434.0,316.5 L434.2,318.8 L434.3,317.4 L434.5,320.1 L434.7,318.4 L434.8,320.5 L435.0,319.1 L435.2,321.6 L435.3,319.8 L435.5,321.3 L435.8,322.5 L436.2,318.7 L436.5,321.2 L436.8,318.2 L437.2,321.1 L437.5,319.3 L437.8,318.0 L438.1,320.2 L438.4,316.8 L438.6,319.3 L438.9,316.2 L439.2,319.0 L439.5,317.1 L439.6,317.1 L439.7,319.0 L439.8,317.7 L439.9,319.9 L440.0,318.3 L440.1,320.7 L440.2,319.4 L440.3,321.8 L440.4,320.3 L440.5,322.0 L440.5,321.1 L440.6,323.0 L440.7,322.0 L440.8,323.9 L440.9,322.9 L441.0,325.0 L441.1,323.5 L441.2,325.8 L441.3,324.1 L441.4,326.5 L441.5,326.1 L441.7,324.7 L441.8,326.3 L442.0,323.9 L442.1,325.4 L442.3,322.9 L442.4,324.8 L442.6,322.4 L442.7,323.7 L442.9,321.2 L443.0,323.3 L443.2,320.3 L443.3,322.0 L443.5,320.6 L443.6,320.7 L443.6,322.6 L443.7,321.2 L443.8,323.3 L443.8,322.0 L443.9,324.1 L444.0,322.9 L444.0,325.1 L444.1,323.7 L444.1,325.8 L444.2,324.5 L444.3,326.5 L444.3,325.2 L444.4,327.4 L444.5,326.4 L444.5,328.1 L444.6,327.0 L444.7,328.9 L444.7,327.8 L444.8,329.7 L444.9,328.7 L444.9,330.5 L445.0,329.5 L445.0,331.6 L445.1,330.4 L445.2,331.9 L445.2,330.9 L445.3,332.9 L445.4,331.9 L445.4,333.9 L445.5,333.4 L445.6,332.3 L445.7,333.3 L445.8,331.1 L446.0,333.1 L446.1,330.7 L446.2,332.0 L446.3,329.9 L446.4,331.0 L446.5,328.8 L446.6,330.6 L446.8,328.4 L446.9,329.5 L447.0,327.3 L447.1,329.1 L447.2,326.7 L447.3,328.0 L447.4,326.0 L447.5,327.5 L447.7,324.9 L447.8,326.7 L447.9,324.5 L448.0,324.9 L448.4,327.0 L448.8,322.7 L449.2,326.2 L449.7,323.2 L450.1,325.6 L450.5,324.6 L450.7,323.8 L450.9,326.5 L451.2,324.0 L451.4,326.9 L451.6,324.5 L451.8,327.9 L452.1,325.3 L452.3,327.9 L452.5,327.4 L452.6,326.8 L452.8,329.0 L452.9,327.3 L453.1,330.1 L453.2,328.6 L453.4,330.6 L453.6,329.3 L453.7,331.7 L453.9,330.2 L454.0,331.4 L454.0,331.9 L454.1,330.1 L454.1,331.0 L454.1,329.2 L454.2,330.3 L454.2,328.1 L454.2,329.2 L454.2,327.4 L454.3,328.2 L454.3,326.7 L454.3,327.7 L454.4,325.8 L454.4,326.7 L454.4,325.2 L454.5,325.8 L454.5,324.1 L454.5,325.0 L454.6,323.4 L454.6,324.4 L454.6,322.4 L454.7,323.5 L454.7,321.8 L454.7,322.7 L454.8,321.0 L454.8,322.0 L454.8,320.2 L454.8,320.9 L454.9,319.3 L454.9,320.4 L454.9,318.6 L455.0,319.3 L455.0,318.1 L455.0,317.0 L455.0,318.5 L455.0,316.1 L455.1,318.0 L455.1,315.3 L455.1,317.0 L455.1,314.5 L455.1,316.4 L455.1,313.3 L455.2,315.3 L455.2,312.5 L455.2,314.4 L455.2,311.6 L455.2,313.8 L455.2,311.1 L455.3,312.9 L455.3,310.6 L455.3,311.9 L455.3,309.3 L455.3,311.3 L455.3,308.7 L455.3,310.6 L455.4,308.0 L455.4,309.6 L455.4,307.4 L455.4,308.9 L455.4,306.3 L455.4,308.2 L455.5,306.0 L455.5,307.6 L455.5,304.9 L455.5,306.3 L455.5,304.2 L455.5,305.6 L455.5,303.0 L455.6,305.0 L455.6,302.5 L455.6,304.0 L455.6,301.8 L455.6,303.2 L455.6,300.9 L455.7,302.8 L455.7,299.8 L455.7,302.0 L455.7,298.9 L455.7,301.1 L455.7,298.7 L455.8,299.9 L455.8,297.9 L455.8,299.2 L455.8,297.9 L455.8,296.9 L455.9,300.0 L455.9,298.0 L455.9,300.5 L456.0,298.4 L456.0,301.7 L456.0,299.7 L456.1,301.9 L456.1,300.0 L456.1,302.9 L456.2,300.9 L456.2,303.6 L456.2,301.8 L456.2,304.6 L456.3,302.4 L456.3,305.3 L456.3,303.9 L456.4,306.1 L456.4,304.1 L456.4,307.5 L456.5,305.0 L456.5,308.1 L456.5,306.1 L456.6,308.5 L456.6,307.5 L456.7,305.6 L456.8,308.2 L456.9,305.1 L457.0,307.7 L457.1,304.7 L457.2,306.9 L457.3,303.2 L457.4,305.9 L457.5,303.9 L457.6,302.3 L457.7,305.0 L457.8,301.6 L457.9,303.8 L457.9,300.5 L458.0,302.9 L458.1,300.3 L458.2,302.2 L458.3,299.2 L458.4,301.6 L458.5,298.3 L458.6,301.0 L458.6,297.1 L458.7,299.9 L458.8,297.1 L458.9,299.4 L459.0,296.7 L459.3,294.9 L459.6,298.5 L459.9,293.9 L460.2,298.9 L460.5,295.1 L460.5,294.4 L460.6,296.5 L460.6,293.2 L460.6,295.1 L460.7,292.4 L460.7,294.8 L460.8,291.9 L460.8,293.5 L460.8,290.8 L460.9,292.8 L460.9,290.5 L460.9,291.9 L461.0,289.4 L461.0,291.0 L461.0,288.6 L461.1,290.6 L461.1,287.7 L461.1,289.7 L461.2,286.7 L461.2,288.6 L461.2,286.3 L461.3,288.5 L461.3,285.0 L461.4,287.6 L461.4,284.3 L461.4,286.5 L461.5,283.5 L461.5,284.6 L461.5,285.8 L461.6,284.3 L461.6,286.6 L461.6,284.6 L461.7,287.6 L461.7,285.8 L461.7,288.5 L461.8,286.9 L461.8,289.5 L461.8,287.1 L461.9,290.4 L461.9,287.9 L461.9,290.8 L462.0,289.3 L462.0,292.0 L462.0,289.6 L462.1,292.5 L462.1,290.7 L462.1,293.1 L462.2,291.2 L462.2,293.0 L462.2,294.1 L462.3,291.1 L462.3,292.8 L462.4,290.1 L462.4,292.4 L462.5,289.0 L462.5,291.2 L462.5,288.3 L462.6,290.4 L462.6,287.3 L462.7,289.9 L462.7,286.8 L462.8,288.7 L462.8,286.2 L462.9,288.3 L462.9,284.9 L462.9,287.0 L463.0,284.7 L463.0,286.1 L463.1,283.1 L463.1,285.2 L463.2,282.4 L463.2,283.5 L463.2,285.1 L463.3,283.1 L463.3,285.8 L463.3,283.9 L463.3,286.4 L463.4,284.4 L463.4,287.2 L463.4,285.9 L463.4,288.4 L463.5,286.3 L463.5,289.3 L463.5,287.0 L463.5,290.2 L463.6,288.3 L463.6,290.3 L463.6,289.0 L463.7,291.7 L463.7,289.9 L463.7,292.4 L463.7,290.2 L463.8,292.9 L463.8,291.2 L463.8,294.2 L463.8,291.8 L463.9,294.7 L463.9,294.0 L463.9,292.6 L464.0,294.8 L464.0,291.4 L464.0,293.7 L464.1,291.0 L464.1,293.0 L464.2,290.0 L464.2,292.2 L464.2,289.3 L464.3,291.5 L464.3,288.3 L464.3,290.4 L464.4,287.6 L464.4,289.8 L464.4,286.8 L464.5,289.2 L464.5,286.4 L464.5,288.3 L464.6,285.0 L464.6,287.2 L464.7,284.1 L464.7,286.1 L464.7,283.7 L464.8,285.8 L464.8,284.3 L464.8,283.4 L464.8,286.3 L464.8,284.0 L464.9,286.4 L464.9,285.2 L464.9,287.2 L464.9,285.7 L464.9,288.2 L464.9,286.7 L464.9,289.1 L465.0,287.7 L465.0,290.3 L465.0,288.0 L465.0,290.8 L465.0,289.1 L465.0,291.5 L465.1,289.8 L465.1,292.3 L465.1,290.3 L465.1,293.6 L465.1,291.3 L465.1,294.3 L465.1,292.6 L465.2,294.6 L465.2,293.2 L465.2,295.4 L465.2,294.9 L465.2,293.0 L465.3,295.6 L465.3,292.1 L465.4,294.2 L465.4,291.8 L465.4,293.2 L465.5,290.9 L465.5,291.1 L465.5,293.2 L465.6,291.2 L465.6,294.1 L465.7,291.8 L465.7,294.9 L465.8,292.9 L465.8,295.8 L465.9,293.4 L465.9,296.6 L466.0,294.4 L466.0,297.2 L466.0,295.3 L466.1,297.7 L466.1,296.0 L466.2,299.0 L466.2,297.1 L466.3,300.0 L466.3,297.3 L466.4,300.8 L466.4,298.2 L466.5,301.3 L466.5,300.2 L466.9,298.5 L467.4,304.1 L467.8,297.7 L468.2,300.7 L468.3,302.9 L468.4,300.9 L468.5,304.1 L468.6,301.5 L468.7,304.6 L468.9,302.0 L469.0,305.7 L469.1,302.8 L469.2,306.4 L469.3,304.2 L469.4,307.1 L469.5,306.9 L469.6,305.3 L469.6,308.8 L469.7,306.6 L469.8,309.3 L469.9,306.8 L469.9,310.6 L470.0,307.4 L470.1,310.6 L470.1,308.8 L470.2,312.2 L470.3,309.4 L470.4,313.0 L470.4,310.5 L470.5,313.0 L470.6,310.7 L470.6,314.0 L470.7,311.9 L470.8,314.9 L470.9,312.7 L470.9,316.3 L471.0,315.4 L471.1,312.7 L471.2,315.3 L471.3,312.0 L471.3,314.3 L471.4,311.6 L471.5,314.4 L471.6,310.9 L471.7,313.0 L471.8,309.8 L471.9,312.1 L472.0,308.9 L472.0,311.6 L472.1,308.6 L472.2,311.1 L472.3,307.8 L472.4,310.1 L472.5,306.8 L472.6,308.7 L472.7,306.2 L472.7,308.7 L472.8,304.7 L472.9,307.4 L473.0,305.9 L473.1,304.2 L473.2,308.2 L473.2,305.4 L473.3,308.4 L473.4,306.2 L473.5,309.9 L473.6,306.8 L473.6,310.4 L473.7,307.5 L473.8,311.0 L473.9,308.6 L473.9,312.2 L474.0,309.8 L474.1,313.0 L474.2,310.7 L474.3,313.5 L474.3,311.0 L474.4,314.0 L474.5,313.8 L474.5,312.5 L474.6,315.1 L474.6,313.4 L474.7,316.2 L474.7,314.1 L474.7,316.5 L474.8,315.2 L474.8,317.9 L474.9,316.0 L474.9,318.3 L474.9,316.2 L475.0,319.6 L475.0,317.0 L475.1,319.8 L475.1,318.5 L475.1,321.1 L475.2,318.8 L475.2,321.6 L475.3,320.1 L475.3,322.5 L475.3,320.7 L475.4,323.4 L475.4,320.9 L475.5,323.9 L475.5,322.9 L475.5,322.3 L475.6,325.0 L475.6,323.5 L475.7,326.1 L475.7,323.7 L475.8,326.9 L475.8,325.1 L475.9,327.8 L475.9,326.0 L476.0,328.6 L476.0,326.4 L476.0,329.3 L476.1,327.2 L476.1,330.0 L476.2,328.5 L476.2,331.2 L476.3,329.1 L476.3,332.3 L476.4,330.2 L476.4,332.9 L476.5,330.5 L476.5,332.2 L476.6,333.4 L476.7,332.3 L476.8,334.5 L476.8,333.2 L476.9,335.2 L477.0,333.9 L477.1,336.1 L477.2,334.9 L477.2,336.7 L477.3,335.7 L477.4,337.8 L477.5,337.6 L477.6,336.7 L477.6,338.9 L477.6,337.9 L477.7,339.5 L477.8,338.5 L477.8,340.6 L477.9,339.5 L477.9,341.4 L477.9,339.9 L478.0,342.0 L478.1,340.8 L478.1,342.8 L478.1,341.7 L478.2,343.9 L478.2,342.7 L478.3,344.4 L478.4,343.1 L478.4,345.1 L478.4,344.3 L478.5,346.1 L478.6,344.9 L478.6,346.9 L478.6,345.6 L478.7,347.8 L478.8,346.8 L478.8,348.3 L478.9,347.6 L478.9,349.2 L478.9,348.4 L479.0,349.3 L479.1,350.6 L479.1,349.5 L479.2,351.5 L479.3,350.3 L479.3,352.4 L479.4,351.1 L479.4,353.1 L479.5,351.9 L479.6,353.7 L479.6,352.6 L479.7,353.6 L479.8,354.3 L479.9,352.4 L480.0,353.9 L480.1,351.5 L480.2,352.6 L480.3,350.8 L480.4,352.2 L480.5,349.7 L480.6,351.1 L480.7,349.0 L480.9,350.5 L481.0,348.3 L481.1,349.7 L481.2,347.6 L481.3,349.3 L481.4,346.5 L481.5,348.4 L481.6,345.9 L481.7,347.5 L481.8,345.4 L481.9,346.3 L482.0,345.6 L482.1,343.8 L482.3,345.6 L482.4,343.3 L482.6,344.6 L482.7,342.1 L482.9,344.0 L483.0,341.9 L483.1,343.1 L483.3,341.0 L483.4,342.2 L483.6,339.8 L483.7,341.9 L483.9,339.1 L484.0,339.5 L484.1,341.1 L484.2,340.1 L484.2,342.1 L484.3,340.6 L484.4,343.0 L484.5,341.4 L484.6,343.4 L484.7,342.6 L484.8,344.2 L484.8,343.0 L484.9,345.5 L485.0,344.0 L485.1,345.9 L485.2,344.7 L485.2,346.7 L485.3,345.8 L485.4,347.5 L485.5,347.6 L485.6,347.0 L485.7,349.2 L485.8,347.6 L485.9,349.9 L486.0,348.3 L486.0,350.8 L486.1,349.2 L486.2,351.8 L486.3,350.5 L486.4,352.5 L486.5,351.8 L486.5,350.9 L486.6,351.8 L486.6,349.8 L486.6,350.8 L486.7,349.3 L486.7,350.1 L486.7,348.2 L486.8,349.4 L486.8,347.5 L486.8,348.6 L486.9,346.7 L486.9,347.8 L486.9,346.1 L487.0,347.1 L487.0,345.1 L487.0,346.4 L487.1,344.5 L487.1,345.6 L487.1,343.5 L487.2,344.7 L487.2,342.9 L487.2,343.9 L487.3,342.2 L487.3,342.1 L487.3,342.5 L487.3,341.0 L487.3,341.6 L487.3,340.0 L487.4,341.0 L487.4,339.2 L487.4,340.0 L487.4,338.4 L487.4,339.5 L487.4,337.6 L487.4,338.4 L487.4,336.8 L487.5,337.7 L487.5,336.1 L487.5,336.8 L487.5,335.1 L487.5,336.1 L487.5,334.2 L487.5,335.1 L487.5,333.7 L487.6,334.5 L487.6,333.0 L487.6,333.6 L487.6,332.0 L487.6,332.8 L487.6,331.0 L487.6,332.1 L487.6,330.3 L487.6,331.3 L487.7,329.4 L487.7,330.4 L487.7,329.0 L487.7,329.8 L487.7,327.8 L487.7,328.7 L487.7,327.3 L487.7,327.9 L487.8,326.3 L487.8,327.0 L487.8,325.7 L487.8,326.4 L487.8,324.9 L487.8,325.5 L487.8,323.9 L487.8,324.6 L487.9,323.3 L487.9,323.9 L487.9,322.4 L487.9,323.1 L487.9,321.5 L487.9,322.3 L487.9,320.7 L487.9,321.3 L488.0,319.7 L488.0,320.8 L488.0,319.0 L488.0,319.7 L488.0,318.7 L488.1,318.1 L488.3,320.7 L488.4,319.4 L488.6,321.7 L488.7,319.8 L488.9,322.1 L489.0,321.8 L489.2,320.9 L489.5,323.5 L489.8,321.9 L490.0,323.4 L490.1,324.7 L490.2,323.1 L490.3,325.5 L490.4,324.0 L490.6,325.9 L490.7,325.0 L490.8,327.2 L490.9,325.3 L491.0,327.1 L491.0,327.8 L491.1,326.8 L491.1,328.6 L491.2,327.8 L491.2,329.4 L491.3,328.3 L491.3,330.6 L491.4,329.2 L491.4,331.1 L491.5,329.9 L491.5,331.9 L491.6,330.9 L491.6,332.9 L491.7,331.9 L491.7,333.6 L491.8,332.8 L491.8,334.6 L491.9,333.5 L491.9,335.1 L492.0,334.3 L492.0,335.4 L492.1,336.7 L492.2,335.2 L492.3,337.6 L492.4,335.9 L492.5,338.0 L492.6,336.8 L492.7,338.8 L492.8,337.8 L492.9,339.6 L493.0,338.7 L493.1,340.5 L493.2,339.0 L493.3,341.5 L493.4,340.3 L493.5,342.0 L493.6,340.8 L493.7,343.0 L493.8,341.9 L493.9,343.6 L494.0,343.4 L494.1,342.7 L494.3,344.8 L494.4,343.4 L494.5,345.7 L494.7,344.3 L494.8,346.7 L494.9,345.3 L495.1,347.8 L495.2,346.0 L495.3,348.2 L495.5,346.7 L495.6,349.3 L495.7,347.3 L495.9,350.1 L496.0,349.4 L496.2,348.4 L496.4,351.3 L496.6,349.0 L496.8,352.3 L497.0,350.0 L497.2,352.5 L497.3,350.9 L497.5,353.5 L497.7,351.9 L497.9,354.5 L498.1,352.7 L498.3,355.2 L498.5,354.3 L498.7,353.7 L498.9,356.4 L499.1,354.2 L499.3,357.3 L499.5,354.8 L499.7,358.0 L499.8,356.1 L500.0,358.6 L500.2,356.7 L500.4,359.6 L500.6,357.5 L500.8,359.9 L501.0,358.9 L501.4,357.9 L501.8,361.3 L502.2,358.4 L502.7,361.2 L503.1,358.5 L503.5,359.8 L503.6,361.5 L503.8,360.2 L503.9,362.3 L504.0,360.9 L504.1,363.2 L504.2,361.8 L504.4,363.8 L504.5,363.1 L504.6,362.1 L504.7,363.8 L504.8,361.5 L504.9,362.6 L505.0,360.6 L505.1,362.0 L505.2,359.7 L505.3,361.2 L505.4,359.2 L505.5,360.0 L505.6,358.3 L505.7,359.3 L505.8,357.3 L505.9,358.5 L506.0,357.7 L506.2,355.9 L506.4,357.8 L506.5,354.8 L506.7,357.1 L506.9,354.3 L507.1,356.5 L507.3,353.8 L507.5,355.2 L507.6,352.6 L507.8,354.8 L508.0,353.4 L508.1,352.3 L508.2,353.5 L508.3,351.3 L508.4,352.6 L508.5,350.5 L508.6,351.9 L508.7,349.6 L508.8,350.7 L508.9,348.5 L509.0,349.9 L509.1,348.0 L509.2,349.2 L509.3,348.2 L509.4,347.6 L509.5,349.4 L509.7,347.9 L509.8,350.1 L509.9,349.0 L510.0,351.3 L510.1,349.5 L510.3,352.1 L510.4,350.7 L510.5,353.0 L510.6,351.3 L510.8,353.7 L510.9,352.0 L511.0,353.6 L511.1,354.6 L511.2,353.4 L511.3,355.2 L511.4,354.0 L511.5,355.9 L511.5,355.0 L511.6,357.1 L511.7,355.6 L511.8,357.9 L511.9,356.6 L512.0,358.5 L512.1,357.2 L512.2,359.0 L512.3,358.1 L512.4,360.3 L512.5,358.6 L512.5,360.8 L512.6,359.5 L512.7,361.8 L512.8,360.0 L512.9,362.5 L513.0,361.6 L513.1,360.4 L513.2,361.9 L513.4,360.0 L513.5,361.1 L513.6,359.1 L513.8,360.6 L513.9,358.3 L514.0,359.8 L514.1,357.8 L514.2,359.2 L514.4,356.7 L514.5,357.2 L514.6,358.1 L514.7,355.4 L514.8,357.3 L514.9,354.6 L515.1,356.0 L515.2,354.2 L515.3,355.5 L515.4,353.5 L515.5,354.9 L515.6,352.3 L515.7,353.7 L515.8,351.7 L515.9,353.5 L516.1,350.7 L516.2,352.4 L516.3,350.4 L516.4,351.6 L516.5,350.3 L516.6,348.9 L516.7,350.3 L516.8,348.4 L516.9,350.0 L517.0,347.8 L517.1,349.0 L517.2,347.0 L517.4,348.3 L517.5,346.0 L517.6,347.6 L517.7,345.3 L517.8,346.8 L517.9,344.6 L518.0,344.6 L518.1,346.0 L518.2,345.0 L518.3,346.9 L518.4,345.3 L518.5,347.7 L518.6,346.2 L518.8,348.2 L518.9,347.1 L519.0,349.3 L519.1,348.1 L519.2,350.1 L519.3,348.7 L519.4,350.7 L519.5,350.6 L519.6,348.4 L519.7,350.5 L519.8,348.2 L519.8,349.7 L519.9,347.2 L520.0,349.4 L520.1,345.8 L520.2,348.9 L520.2,345.1 L520.3,347.3 L520.4,344.4 L520.5,347.1 L520.6,343.8 L520.7,346.5 L520.8,342.9 L520.8,344.9 L520.9,342.5 L521.0,342.8 L521.1,344.1 L521.1,341.0 L521.2,343.5 L521.2,340.7 L521.3,342.0 L521.4,339.1 L521.4,341.4 L521.5,338.9 L521.5,341.1 L521.6,338.2 L521.7,340.2 L521.7,336.8 L521.8,339.2 L521.8,336.2 L521.9,338.0 L522.0,335.4 L522.0,337.7 L522.1,334.5 L522.1,336.8 L522.2,334.2 L522.3,335.8 L522.3,333.0 L522.4,334.8 L522.4,332.6 L522.5,332.9 L522.5,334.1 L522.6,331.1 L522.6,333.0 L522.7,330.0 L522.7,332.3 L522.8,329.7 L522.8,331.5 L522.8,328.4 L522.9,330.5 L522.9,327.9 L523.0,329.8 L523.0,326.7 L523.1,329.0 L523.1,326.5 L523.2,328.2 L523.2,325.5 L523.2,327.3 L523.3,324.4 L523.3,326.1 L523.4,323.7 L523.4,325.5 L523.5,322.8 L523.5,324.0 L523.6,324.4 L523.6,321.5 L523.7,323.5 L523.7,321.0 L523.8,322.8 L523.9,319.9 L523.9,321.8 L524.0,318.9 L524.0,321.2 L524.1,318.4 L524.1,320.1 L524.2,317.2 L524.3,319.9 L524.3,316.3 L524.4,318.5 L524.4,316.2 L524.5,316.8 L524.5,317.1 L524.6,314.4 L524.6,316.8 L524.7,314.0 L524.8,315.8 L524.8,312.9 L524.9,314.8 L524.9,312.4 L525.0,314.5 L525.0,311.3 L525.0,313.5 L525.1,311.0 L525.1,312.4 L525.2,310.1 L525.2,311.5 L525.3,309.0 L525.4,311.1 L525.4,307.9 L525.5,310.3 L525.5,307.1 L525.5,309.4 L525.6,306.7 L525.6,308.5 L525.7,305.9 L525.8,308.2 L525.8,305.1 L525.9,306.7 L525.9,304.4 L526.0,306.0 L526.0,304.8 L526.0,303.1 L526.1,305.0 L526.1,301.9 L526.2,304.4 L526.2,301.8 L526.3,303.0 L526.3,300.5 L526.4,302.6 L526.4,299.7 L526.5,301.7 L526.5,299.4 L526.5,300.9 L526.6,297.9 L526.6,300.2 L526.7,297.7 L526.7,299.0 L526.8,296.2 L526.8,298.5 L526.9,296.0 L526.9,297.8 L527.0,294.6 L527.0,296.0 L528.0,286.2 L528.5,289.9 L529.0,271.5 L529.5,287.6 L530.0,284.2 L530.5,293.4 L531.0,280.0 L531.0,301.5 L531.5,295.9 L532.0,276.2 L532.5,279.1 L533.0,262.7 L533.2,276.2 L533.5,256.3 L533.8,273.4 L534.0,255.0 L534.5,264.7 L535.0,252.4 L535.6,266.6 L536.2,261.1 L536.6,271.6 L537.0,261.8 L537.2,273.1 L537.5,262.2 L537.5,283.0 L537.8,278.9 L538.0,260.3 L538.4,278.2 L538.8,257.0 L539.4,276.6 L540.0,263.2 L540.4,275.2 L540.8,262.1 L541.3,268.5 L541.8,257.7 L542.4,269.0 L543.0,264.3 L543.5,271.5 L544.0,264.3 L544.5,271.1 L545.0,264.1 L545.5,271.9 L546.0,264.0 L546.5,271.4 L547.0,263.6 L547.5,271.6 L548.0,263.7 L548.5,269.8 L549.0,263.5 L549.2,270.1 L549.5,263.7 L549.8,267.6 L550.0,261.6 L550.5,269.2 L551.0,257.6 L551.2,265.5 L551.5,249.6 L551.8,258.7 L552.0,249.4 L552.5,261.9 L553.0,249.0 L553.6,257.9 L554.2,250.2 L554.6,267.2 L555.0,259.1 L555.5,274.4 L556.0,268.2 L556.5,280.2 L556.6,285.0 L557.0,276.2 L557.5,279.6 L558.0,275.6 L558.5,278.7 L559.0,275.2 L559.5,280.1 L560.0,275.7 L560.5,282.1 L560.5,284.0 L561.0,276.1 L561.5,281.0 L562.0,274.8 L562.5,278.9 L563.0,273.5 L563.5,279.4 L564.0,270.8 L564.5,277.0 L565.0,270.2 L565.2,276.8 L565.5,270.1 L565.8,277.1 L566.0,271.3 L566.4,278.2 L566.8,273.2 L567.1,279.8 L567.5,279.3 L567.8,282.5 L568.0,279.9 L568.0,284.0 L568.5,284.7 L569.0,281.0 L569.2,285.1 L569.5,281.6 L569.8,285.2 L570.0,282.6 L570.5,288.2 L570.5,289.0 L571.0,284.1 L571.6,285.7 L572.2,279.5 L572.6,283.7 L573.0,282.9 L573.2,288.7 L573.5,285.2 L573.8,290.7 L574.0,284.1 L574.0,294.0 L574.2,289.8 L574.5,283.2 L574.8,288.6 L575.0,281.4 L575.4,288.7 L575.8,278.5 L576.4,283.7 L577.0,280.2 L577.5,280.8 L578.0,275.6 L578.2,278.0 L578.5,273.4 L578.8,280.5 L579.0,274.4 L579.5,280.5 L580.0,276.1 L580.5,284.4 L581.0,281.0 L581.5,285.5 L582.0,282.3 L582.5,285.3 L583.0,284.3 L583.2,287.0 L583.5,285.1 L583.8,286.7 L584.0,285.0 L584.5,286.7 L585.0,284.8 L585.5,286.9 L586.0,283.4 L586.5,285.0 L587.0,282.4 L587.5,285.9 L588.0,282.2" fill="none" stroke="#000" stroke-width="1.9" stroke-linejoin="round" stroke-linecap="round"/></g>
<rect x="32.5" y="8.5" width="556" height="368" fill="none" stroke="#808080" stroke-width="1"/>
<line x1="32.5" y1="52" x2="32.5" y2="376" stroke="#5e501e" stroke-width="1" shape-rendering="crispEdges"/>
<g stroke="#808080" stroke-width="1" shape-rendering="crispEdges"><line x1="28.5" y1="8" x2="28.5" y2="377"/></g>
<g stroke="#bcbcbc" stroke-width="1" shape-rendering="crispEdges"><line x1="26" y1="16.5" x2="28" y2="16.5"/><line x1="26" y1="42.5" x2="28" y2="42.5"/><line x1="26" y1="67.5" x2="28" y2="67.5"/><line x1="26" y1="93.5" x2="28" y2="93.5"/><line x1="26" y1="119.5" x2="28" y2="119.5"/><line x1="26" y1="144.5" x2="28" y2="144.5"/><line x1="26" y1="170.5" x2="28" y2="170.5"/><line x1="26" y1="196.5" x2="28" y2="196.5"/><line x1="26" y1="221.5" x2="28" y2="221.5"/><line x1="26" y1="247.5" x2="28" y2="247.5"/><line x1="26" y1="273.5" x2="28" y2="273.5"/><line x1="26" y1="298.5" x2="28" y2="298.5"/><line x1="26" y1="324.5" x2="28" y2="324.5"/><line x1="26" y1="350.5" x2="28" y2="350.5"/><line x1="26" y1="376.5" x2="28" y2="376.5"/></g>
<g stroke="#8c8c8c" stroke-width="1" shape-rendering="crispEdges"><line x1="32" y1="380.5" x2="589" y2="380.5"/></g>
<g stroke="#b4b4b4" stroke-width="1" shape-rendering="crispEdges"><line x1="50.5" y1="381" x2="50.5" y2="383"/><line x1="86.5" y1="381" x2="86.5" y2="383"/><line x1="122.5" y1="381" x2="122.5" y2="383"/><line x1="158.5" y1="381" x2="158.5" y2="383"/><line x1="194.5" y1="381" x2="194.5" y2="383"/><line x1="231.5" y1="381" x2="231.5" y2="383"/><line x1="267.5" y1="381" x2="267.5" y2="383"/><line x1="303.5" y1="381" x2="303.5" y2="383"/><line x1="339.5" y1="381" x2="339.5" y2="383"/><line x1="375.5" y1="381" x2="375.5" y2="383"/><line x1="412.5" y1="381" x2="412.5" y2="383"/><line x1="448.5" y1="381" x2="448.5" y2="383"/><line x1="484.5" y1="381" x2="484.5" y2="383"/><line x1="520.5" y1="381" x2="520.5" y2="383"/><line x1="556.5" y1="381" x2="556.5" y2="383"/></g>
<g class="lb">
<text transform="translate(22.6,21) scale(1,0.96)" text-anchor="end">14</text>
<text transform="translate(22.6,46) scale(1,0.96)" text-anchor="end">13</text>
<text transform="translate(22.6,72) scale(1,0.96)" text-anchor="end">12</text>
<text transform="translate(22.6,98) scale(1,0.96)" text-anchor="end">11</text>
<text transform="translate(22.6,123) scale(1,0.96)" text-anchor="end">10</text>
<text transform="translate(22.6,149) scale(1,0.96)" text-anchor="end">9</text>
<text transform="translate(22.6,175) scale(1,0.96)" text-anchor="end">8</text>
<text transform="translate(22.6,200) scale(1,0.96)" text-anchor="end">7</text>
<text transform="translate(22.6,226) scale(1,0.96)" text-anchor="end">6</text>
<text transform="translate(22.6,252) scale(1,0.96)" text-anchor="end">5</text>
<text transform="translate(22.6,278) scale(1,0.96)" text-anchor="end">4</text>
<text transform="translate(22.6,303) scale(1,0.96)" text-anchor="end">3</text>
<text transform="translate(22.6,329) scale(1,0.96)" text-anchor="end">2</text>
<text transform="translate(22.6,355) scale(1,0.96)" text-anchor="end">1</text>
<text transform="translate(22.6,380) scale(1,0.96)" text-anchor="end">0</text>
<text transform="translate(50.1,395.2) scale(1,0.96)" text-anchor="middle">1996</text>
<text transform="translate(86.2,395.2) scale(1,0.96)" text-anchor="middle">1998</text>
<text transform="translate(122.6,395.2) scale(1,0.96)" text-anchor="middle">2000</text>
<text transform="translate(159.8,395.2) scale(1,0.96)" text-anchor="middle">2002</text>
<text transform="translate(195.8,395.2) scale(1,0.96)" text-anchor="middle">2004</text>
<text transform="translate(232.2,395.2) scale(1,0.96)" text-anchor="middle">2006</text>
<text transform="translate(267.8,395.2) scale(1,0.96)" text-anchor="middle">2008</text>
<text transform="translate(304.3,395.2) scale(1,0.96)" text-anchor="middle">2010</text>
<text transform="translate(340.8,395.2) scale(1,0.96)" text-anchor="middle">2012</text>
<text transform="translate(376.3,395.2) scale(1,0.96)" text-anchor="middle">2014</text>
<text transform="translate(412.5,395.2) scale(1,0.96)" text-anchor="middle">2016</text>
<text transform="translate(448.5,395.2) scale(1,0.96)" text-anchor="middle">2018</text>
<text transform="translate(485.4,395.2) scale(1,0.96)" text-anchor="middle">2020</text>
<text transform="translate(521.3,395.2) scale(1,0.96)" text-anchor="middle">2022</text>
<text transform="translate(557.1,395.2) scale(1,0.96)" text-anchor="middle">2024</text>
</g>
</svg></body></html>
